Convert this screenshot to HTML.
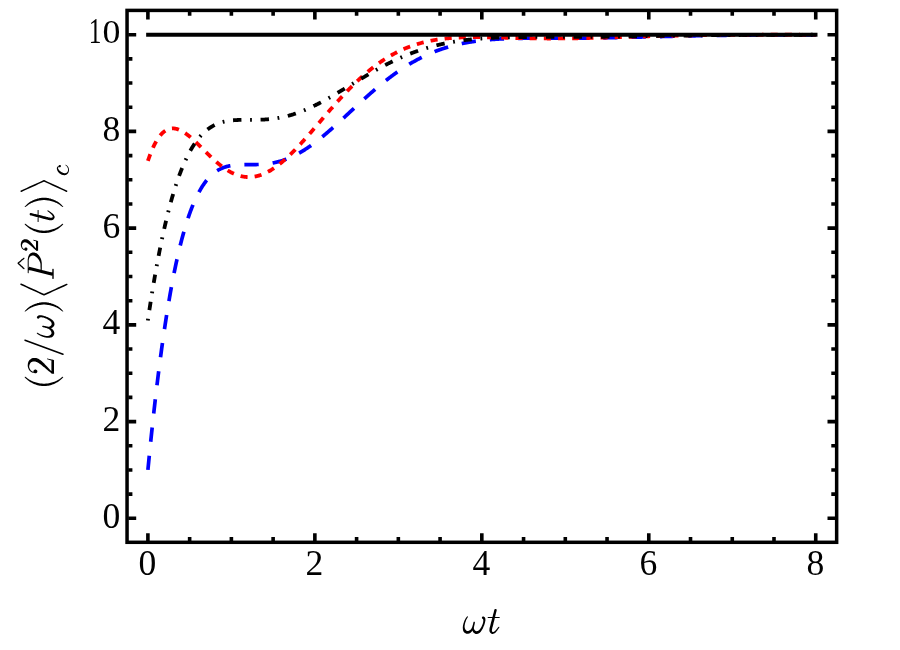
<!DOCTYPE html>
<html><head><meta charset="utf-8"><title>(2/ω)⟨P²(t)⟩c versus ωt</title><style>html,body{margin:0;padding:0;background:#fff;}body{width:900px;height:650px;overflow:hidden;position:relative;font-family:"Liberation Serif",serif;}</style></head><body>
<svg width="900" height="650" viewBox="0 0 900 650" style="position:absolute;left:0;top:0">
<rect x="0" y="0" width="900" height="650" fill="#fff"/>
<g fill="none" stroke-linecap="butt" stroke-linejoin="round">
<path d="M147.90 469.94 L148.32 465.61 L148.74 461.32 L149.15 457.07 L149.57 452.87 L149.99 448.70 L150.41 444.59 L150.82 440.51 L151.24 436.47 L151.66 432.48 L152.08 428.53 L152.49 424.62 L152.91 420.75 L153.33 416.92 L153.75 413.14 L154.16 409.39 L154.58 405.68 L155.00 402.02 L155.42 398.39 L155.84 394.80 L156.25 391.26 L156.67 387.75 L157.09 384.28 L157.51 380.85 L157.92 377.45 L158.34 374.10 L158.76 370.78 L159.18 367.50 L159.59 364.26 L160.01 361.05 L160.43 357.88 L160.85 354.75 L161.27 351.66 L161.68 348.60 L162.10 345.58 L162.52 342.59 L162.94 339.64 L163.35 336.72 L163.77 333.84 L164.19 330.99 L164.61 328.18 L165.02 325.40 L165.44 322.66 L165.86 319.95 L166.28 317.27 L166.69 314.63 L167.11 312.01 L167.53 309.44 L167.95 306.89 L168.37 304.38 L168.78 301.90 L169.20 299.45 L169.62 297.03 L170.04 294.65 L170.45 292.29 L170.87 289.97 L171.29 287.67 L171.71 285.41 L172.12 283.18 L172.54 280.98 L172.96 278.80 L173.38 276.66 L173.79 274.54 L174.21 272.46 L174.63 270.40 L175.05 268.37 L175.47 266.37 L175.88 264.40 L176.30 262.46 L176.72 260.54 L177.14 258.65 L177.55 256.79 L177.97 254.95 L178.39 253.14 L178.81 251.36 L179.22 249.60 L179.64 247.87 L180.06 246.17 L180.48 244.49 L180.90 242.83 L181.31 241.20 L181.73 239.60 L182.15 238.02 L182.57 236.46 L182.98 234.93 L183.40 233.42 L183.82 231.94 L184.24 230.48 L184.65 229.04 L185.07 227.62 L185.49 226.23 L185.91 224.86 L186.32 223.51 L186.74 222.19 L187.16 220.88 L187.58 219.60 L188.00 218.34 L188.41 217.10 L188.83 215.88 L189.25 214.68 L189.67 213.50 L190.08 212.34 L190.50 211.20 L190.92 210.08 L191.34 208.98 L191.75 207.90 L192.17 206.84 L192.59 205.80 L193.01 204.78 L193.43 203.77 L193.84 202.79 L194.26 201.82 L194.68 200.87 L195.10 199.94 L195.51 199.02 L195.93 198.13 L196.35 197.24 L196.77 196.38 L197.18 195.53 L197.60 194.70 L198.02 193.89 L198.44 193.09 L198.85 192.31 L199.27 191.54 L199.69 190.79 L200.11 190.05 L200.53 189.33 L200.94 188.62 L201.36 187.93 L201.78 187.25 L202.20 186.59 L202.61 185.94 L203.03 185.31 L203.45 184.69 L203.87 184.08 L204.28 183.48 L204.70 182.90 L205.12 182.33 L205.54 181.78 L205.95 181.24 L206.37 180.71 L206.79 180.19 L207.21 179.68 L207.63 179.19 L208.04 178.71 L208.46 178.23 L208.88 177.77 L209.30 177.33 L209.71 176.89 L210.13 176.46 L210.55 176.05 L210.97 175.64 L211.38 175.25 L211.80 174.86 L212.22 174.49 L212.64 174.12 L213.06 173.77 L213.47 173.42 L213.89 173.09 L214.31 172.76 L214.73 172.44 L215.14 172.13 L215.56 171.83 L215.98 171.54 L216.40 171.26 L216.81 170.98 L217.23 170.72 L217.65 170.46 L218.07 170.21 L218.48 169.96 L218.90 169.73 L219.32 169.50 L219.74 169.28 L220.16 169.07 L220.57 168.86 L220.99 168.66 L221.41 168.47 L221.83 168.28 L222.24 168.10 L222.66 167.93 L223.08 167.76 L223.50 167.60 L223.91 167.44 L224.33 167.29 L224.75 167.15 L225.17 167.01 L225.58 166.88 L226.00 166.75 L226.42 166.62 L226.84 166.51 L227.26 166.39 L227.67 166.28 L228.09 166.18 L228.51 166.08 L228.93 165.99 L229.34 165.90 L229.76 165.81 L230.18 165.73 L230.60 165.65 L231.01 165.58 L231.43 165.50 L231.85 165.44 L232.27 165.37 L232.69 165.31 L233.10 165.26 L233.52 165.20 L233.94 165.15 L234.36 165.10 L234.77 165.06 L235.19 165.02 L235.61 164.98 L236.03 164.94 L236.44 164.91 L236.86 164.88 L237.28 164.85 L237.70 164.82 L238.11 164.79 L238.53 164.77 L238.95 164.75 L239.37 164.73 L239.79 164.71 L240.20 164.69 L240.62 164.68 L241.04 164.67 L241.46 164.66 L241.87 164.64 L242.29 164.64 L242.71 164.63 L243.13 164.62 L243.54 164.61 L243.96 164.61 L244.38 164.61 L244.80 164.60 L245.22 164.60 L245.63 164.60 L246.05 164.59 L246.47 164.59 L246.89 164.59 L247.30 164.59 L247.72 164.59 L248.14 164.59 L248.56 164.59 L248.97 164.59 L249.39 164.59 L249.81 164.59 L250.23 164.59 L250.64 164.59 L251.06 164.59 L251.48 164.59 L251.90 164.59 L252.32 164.59 L252.73 164.58 L253.15 164.58 L253.57 164.58 L253.99 164.57 L254.40 164.57 L254.82 164.56 L255.24 164.55 L255.66 164.55 L256.07 164.54 L256.49 164.53 L256.91 164.52 L257.33 164.51 L257.74 164.49 L258.16 164.48 L258.58 164.47 L259.00 164.45 L259.42 164.43 L259.83 164.41 L260.25 164.39 L260.67 164.37 L261.09 164.35 L261.50 164.32 L261.92 164.30 L262.34 164.27 L262.76 164.24 L263.17 164.21 L263.59 164.17 L264.01 164.14 L264.43 164.10 L264.85 164.07 L265.26 164.03 L265.68 163.98 L266.10 163.94 L266.52 163.89 L266.93 163.85 L267.35 163.80 L267.77 163.75 L268.19 163.69 L268.60 163.64 L269.02 163.58 L269.44 163.52 L269.86 163.46 L270.27 163.39 L270.69 163.33 L271.11 163.26 L271.53 163.19 L271.95 163.11 L272.36 163.04 L272.78 162.96 L273.20 162.88 L273.62 162.80 L274.03 162.72 L274.45 162.63 L274.87 162.54 L275.29 162.45 L275.70 162.35 L276.12 162.26 L276.54 162.16 L276.96 162.06 L277.37 161.96 L277.79 161.85 L278.21 161.74 L278.63 161.63 L279.05 161.52 L279.46 161.40 L279.88 161.28 L280.30 161.16 L280.72 161.04 L281.13 160.91 L281.55 160.78 L281.97 160.65 L282.39 160.52 L282.80 160.38 L283.22 160.24 L283.64 160.10 L284.06 159.96 L284.48 159.81 L284.89 159.66 L285.31 159.51 L285.73 159.36 L286.15 159.20 L286.56 159.04 L286.98 158.88 L287.40 158.72 L287.82 158.55 L288.23 158.38 L288.65 158.21 L289.07 158.03 L289.49 157.86 L289.90 157.68 L290.32 157.50 L290.74 157.31 L291.16 157.12 L291.58 156.93 L291.99 156.74 L292.41 156.55 L292.83 156.35 L293.25 156.15 L293.66 155.95 L294.08 155.74 L294.50 155.53 L294.92 155.32 L295.33 155.11 L295.75 154.90 L296.17 154.68 L296.59 154.46 L297.00 154.24 L297.42 154.01 L297.84 153.79 L298.26 153.56 L298.68 153.32 L299.09 153.09 L299.51 152.85 L299.93 152.61 L300.35 152.37 L300.76 152.13 L301.18 151.88 L301.60 151.64 L302.02 151.39 L302.43 151.13 L302.85 150.88 L303.27 150.62 L303.69 150.36 L304.11 150.10 L304.52 149.83 L304.94 149.57 L305.36 149.30 L305.78 149.03 L306.19 148.76 L306.61 148.48 L307.03 148.20 L307.45 147.92 L307.86 147.64 L308.28 147.36 L308.70 147.07 L309.12 146.79 L309.53 146.50 L309.95 146.21 L310.37 145.91 L310.79 145.62 L311.21 145.32 L311.62 145.02 L312.04 144.72 L312.46 144.42 L312.88 144.11 L313.29 143.81 L313.71 143.50 L314.13 143.19 L314.55 142.87 L314.96 142.56 L315.38 142.24 L315.80 141.93 L316.22 141.61 L316.64 141.29 L317.05 140.96 L317.47 140.64 L317.89 140.31 L318.31 139.99 L318.72 139.66 L319.14 139.33 L319.56 138.99 L319.98 138.66 L320.39 138.33 L320.81 137.99 L321.23 137.65 L321.65 137.31 L322.06 136.97 L322.48 136.63 L322.90 136.28 L323.32 135.94 L323.74 135.59 L324.15 135.24 L324.57 134.89 L324.99 134.54 L325.41 134.19 L325.82 133.84 L326.24 133.48 L326.66 133.13 L327.08 132.77 L327.49 132.41 L327.91 132.06 L328.33 131.70 L328.75 131.33 L329.16 130.97 L329.58 130.61 L330.00 130.24 L330.42 129.88 L330.84 129.51 L331.25 129.15 L331.67 128.78 L332.09 128.41 L332.51 128.04 L332.92 127.67 L333.34 127.30 L333.76 126.92 L334.18 126.55 L334.59 126.18 L335.01 125.80 L335.43 125.43 L335.85 125.05 L336.27 124.67 L336.68 124.30 L337.10 123.92 L337.52 123.54 L337.94 123.16 L338.35 122.78 L338.77 122.40 L339.19 122.02 L339.61 121.64 L340.02 121.25 L340.44 120.87 L340.86 120.49 L341.28 120.10 L341.69 119.72 L342.11 119.34 L342.53 118.95 L342.95 118.57 L343.37 118.18 L343.78 117.80 L344.20 117.41 L344.62 117.02 L345.04 116.64 L345.45 116.25 L345.87 115.86 L346.29 115.48 L346.71 115.09 L347.12 114.70 L347.54 114.31 L347.96 113.93 L348.38 113.54 L348.79 113.15 L349.21 112.76 L349.63 112.37 L350.05 111.99 L350.47 111.60 L350.88 111.21 L351.30 110.82 L351.72 110.44 L352.14 110.05 L352.55 109.66 L352.97 109.27 L353.39 108.89 L353.81 108.50 L354.22 108.11 L354.64 107.73 L355.06 107.34 L355.48 106.95 L355.90 106.57 L356.31 106.18 L356.73 105.80 L357.15 105.41 L357.57 105.03 L357.98 104.64 L358.40 104.26 L358.82 103.87 L359.24 103.49 L359.65 103.11 L360.07 102.72 L360.49 102.34 L360.91 101.96 L361.32 101.58 L361.74 101.20 L362.16 100.82 L362.58 100.44 L363.00 100.06 L363.41 99.68 L363.83 99.30 L364.25 98.93 L364.67 98.55 L365.08 98.17 L365.50 97.80 L365.92 97.42 L366.34 97.05 L366.75 96.68 L367.17 96.30 L367.59 95.93 L368.01 95.56 L368.43 95.19 L368.84 94.82 L369.26 94.45 L369.68 94.08 L370.10 93.72 L370.51 93.35 L370.93 92.98 L371.35 92.62 L371.77 92.25 L372.18 91.89 L372.60 91.53 L373.02 91.17 L373.44 90.81 L373.85 90.45 L374.27 90.09 L374.69 89.73 L375.11 89.37 L375.53 89.02 L375.94 88.66 L376.36 88.31 L376.78 87.95 L377.20 87.60 L377.61 87.25 L378.03 86.90 L378.45 86.55 L378.87 86.20 L379.28 85.86 L379.70 85.51 L380.12 85.17 L380.54 84.82 L380.95 84.48 L381.37 84.14 L381.79 83.80 L382.21 83.46 L382.63 83.12 L383.04 82.79 L383.46 82.45 L383.88 82.11 L384.30 81.78 L384.71 81.45 L385.13 81.12 L385.55 80.79 L385.97 80.46 L386.38 80.13 L386.80 79.81 L387.22 79.48 L387.64 79.16 L388.06 78.84 L388.47 78.51 L388.89 78.19 L389.31 77.88 L389.73 77.56 L390.14 77.24 L390.56 76.93 L390.98 76.61 L391.40 76.30 L391.81 75.99 L392.23 75.68 L392.65 75.37 L393.07 75.07 L393.48 74.76 L393.90 74.46 L394.32 74.15 L394.74 73.85 L395.16 73.55 L395.57 73.25 L395.99 72.96 L396.41 72.66 L396.83 72.36 L397.24 72.07 L397.66 71.78 L398.08 71.49 L398.50 71.20 L398.91 70.91 L399.33 70.63 L399.75 70.34 L400.17 70.06 L400.58 69.77 L401.00 69.49 L401.42 69.21 L401.84 68.94 L402.26 68.66 L402.67 68.39 L403.09 68.11 L403.51 67.84 L403.93 67.57 L404.34 67.30 L404.76 67.03 L405.18 66.77 L405.60 66.50 L406.01 66.24 L406.43 65.98 L406.85 65.71 L407.27 65.46 L407.69 65.20 L408.10 64.94 L408.52 64.69 L408.94 64.43 L409.36 64.18 L409.77 63.93 L410.19 63.68 L410.61 63.43 L411.03 63.19 L411.44 62.94 L411.86 62.70 L412.28 62.46 L412.70 62.22 L413.11 61.98 L413.53 61.74 L413.95 61.51 L414.37 61.27 L414.79 61.04 L415.20 60.81 L415.62 60.58 L416.04 60.35 L416.46 60.12 L416.87 59.90 L417.29 59.67 L417.71 59.45 L418.13 59.23 L418.54 59.01 L418.96 58.79 L419.38 58.58 L419.80 58.36 L420.21 58.15 L420.63 57.94 L421.05 57.72 L421.47 57.52 L421.89 57.31 L422.30 57.10 L422.72 56.90 L423.14 56.69 L423.56 56.49 L423.97 56.29 L424.39 56.09 L424.81 55.89 L425.23 55.70 L425.64 55.50 L426.06 55.31 L426.48 55.11 L426.90 54.92 L427.32 54.73 L427.73 54.55 L428.15 54.36 L428.57 54.17 L428.99 53.99 L429.40 53.81 L429.82 53.63 L430.24 53.45 L430.66 53.27 L431.07 53.09 L431.49 52.92 L431.91 52.74 L432.33 52.57 L432.74 52.40 L433.16 52.23 L433.58 52.06 L434.00 51.89 L434.42 51.73 L434.83 51.56 L435.25 51.40 L435.67 51.24 L436.09 51.08 L436.50 50.92 L436.92 50.76 L437.34 50.61 L437.76 50.45 L438.17 50.30 L438.59 50.15 L439.01 49.99 L439.43 49.84 L439.85 49.70 L440.26 49.55 L440.68 49.40 L441.10 49.26 L441.52 49.12 L441.93 48.97 L442.35 48.83 L442.77 48.69 L443.19 48.55 L443.60 48.42 L444.02 48.28 L444.44 48.15 L444.86 48.01 L445.27 47.88 L445.69 47.75 L446.11 47.62 L446.53 47.49 L446.95 47.37 L447.36 47.24 L447.78 47.12 L448.20 46.99 L448.62 46.87 L449.03 46.75 L449.45 46.63 L449.87 46.51 L450.29 46.39 L450.70 46.28 L451.12 46.16 L451.54 46.05 L451.96 45.93 L452.37 45.82 L452.79 45.71 L453.21 45.60 L453.63 45.49 L454.05 45.39 L454.46 45.28 L454.88 45.17 L455.30 45.07 L455.72 44.97 L456.13 44.87 L456.55 44.77 L456.97 44.67 L457.39 44.57 L457.80 44.47 L458.22 44.37 L458.64 44.28 L459.06 44.18 L459.48 44.09 L459.89 44.00 L460.31 43.91 L460.73 43.82 L461.15 43.73 L461.56 43.64 L461.98 43.55 L462.40 43.47 L462.82 43.38 L463.23 43.30 L463.65 43.21 L464.07 43.13 L464.49 43.05 L464.90 42.97 L465.32 42.89 L465.74 42.81 L466.16 42.73 L466.58 42.66 L466.99 42.58 L467.41 42.51 L467.83 42.43 L468.25 42.36 L468.66 42.29 L469.08 42.22 L469.50 42.15 L469.92 42.08 L470.33 42.01 L470.75 41.94 L471.17 41.87 L471.59 41.81 L472.00 41.74 L472.42 41.68 L472.84 41.61 L473.26 41.55 L473.68 41.49 L474.09 41.43 L474.51 41.37 L474.93 41.31 L475.35 41.25 L475.76 41.19 L476.18 41.14 L476.60 41.08 L477.02 41.02 L477.43 40.97 L477.85 40.91 L478.27 40.86 L478.69 40.81 L479.11 40.76 L479.52 40.71 L479.94 40.66 L480.36 40.61 L480.78 40.56 L481.19 40.51 L481.61 40.46 L482.03 40.42 L482.45 40.37 L482.86 40.32 L483.28 40.28 L483.70 40.24 L484.12 40.19 L484.53 40.15 L484.95 40.11 L485.37 40.07 L485.79 40.02 L486.21 39.98 L486.62 39.95 L487.04 39.91 L487.46 39.87 L487.88 39.83 L488.29 39.79 L488.71 39.76 L489.13 39.72 L489.55 39.69 L489.96 39.65 L490.38 39.62 L490.80 39.58 L491.22 39.55 L491.64 39.52 L492.05 39.49 L492.47 39.45 L492.89 39.42 L493.31 39.39 L493.72 39.36 L494.14 39.33 L494.56 39.31 L494.98 39.28 L495.39 39.25 L495.81 39.22 L496.23 39.20 L496.65 39.17 L497.06 39.14 L497.48 39.12 L497.90 39.09 L498.32 39.07 L498.74 39.05 L499.15 39.02 L499.57 39.00 L499.99 38.98 L500.41 38.95 L500.82 38.93 L501.24 38.91 L501.66 38.89 L502.08 38.87 L502.49 38.85 L502.91 38.83 L503.33 38.81 L503.75 38.79 L504.16 38.77 L504.58 38.76 L505.00 38.74 L505.42 38.72 L505.84 38.70 L506.25 38.69 L506.67 38.67 L507.09 38.66 L507.51 38.64 L507.92 38.63 L508.34 38.61 L508.76 38.60 L509.18 38.58 L509.59 38.57 L510.01 38.55 L510.43 38.54 L510.85 38.53 L511.27 38.52 L511.68 38.50 L512.10 38.49 L512.52 38.48 L512.94 38.47 L513.35 38.46 L513.77 38.45 L514.19 38.44 L514.61 38.43 L515.02 38.42 L515.44 38.41 L515.86 38.40 L516.28 38.39 L516.69 38.38 L517.11 38.37 L517.53 38.36 L517.95 38.35 L518.37 38.35 L518.78 38.34 L519.20 38.33 L519.62 38.32 L520.04 38.32 L520.45 38.31 L520.87 38.30 L521.29 38.30 L521.71 38.29 L522.12 38.28 L522.54 38.28 L522.96 38.27 L523.38 38.27 L523.79 38.26 L524.21 38.26 L524.63 38.25 L525.05 38.25 L525.47 38.24 L525.88 38.24 L526.30 38.23 L526.72 38.23 L527.14 38.22 L527.55 38.22 L527.97 38.22 L528.39 38.21 L528.81 38.21 L529.22 38.21 L529.64 38.20 L530.06 38.20 L530.48 38.20 L530.90 38.19 L531.31 38.19 L531.73 38.19 L532.15 38.19 L532.57 38.19 L532.98 38.18 L533.40 38.18 L533.82 38.18 L534.24 38.18 L534.65 38.18 L535.07 38.17 L535.49 38.17 L535.91 38.17 L536.32 38.17 L536.74 38.17 L537.16 38.17 L537.58 38.17 L538.00 38.16 L538.41 38.16 L538.83 38.16 L539.25 38.16 L539.67 38.16 L540.08 38.16 L540.50 38.16 L540.92 38.16 L541.34 38.16 L541.75 38.16 L542.17 38.16 L542.59 38.16 L543.01 38.16 L543.43 38.15 L543.84 38.15 L544.26 38.15 L544.68 38.15 L545.10 38.15 L545.51 38.15 L545.93 38.15 L546.35 38.15 L546.77 38.15 L547.18 38.15 L547.60 38.15 L548.02 38.15 L548.44 38.15 L548.85 38.15 L549.27 38.15 L549.69 38.15 L550.11 38.15 L550.53 38.15 L550.94 38.15 L551.36 38.15 L551.78 38.15 L552.20 38.15 L552.61 38.15 L553.03 38.15 L553.45 38.15 L553.87 38.15 L554.28 38.15 L554.70 38.15 L555.12 38.15 L555.54 38.15 L555.95 38.15 L556.37 38.15 L556.79 38.15 L557.21 38.15 L557.63 38.15 L558.04 38.15 L558.46 38.15 L558.88 38.15 L559.30 38.15 L559.71 38.15 L560.13 38.15 L560.55 38.15 L560.97 38.15 L561.38 38.15 L561.80 38.15 L562.22 38.15 L562.64 38.15 L563.06 38.15 L563.47 38.15 L563.89 38.15 L564.31 38.15 L564.73 38.14 L565.14 38.14 L565.56 38.14 L565.98 38.14 L566.40 38.14 L566.81 38.14 L567.23 38.14 L567.65 38.14 L568.07 38.14 L568.48 38.14 L568.90 38.14 L569.32 38.13 L569.74 38.13 L570.16 38.13 L570.57 38.13 L570.99 38.13 L571.41 38.13 L571.83 38.13 L572.24 38.12 L572.66 38.12 L573.08 38.12 L573.50 38.12 L573.91 38.12 L574.33 38.12 L574.75 38.11 L575.17 38.11 L575.58 38.11 L576.00 38.11 L576.42 38.11 L576.84 38.10 L577.26 38.10 L577.67 38.10 L578.09 38.10 L578.51 38.09 L578.93 38.09 L579.34 38.09 L579.76 38.09 L580.18 38.08 L580.60 38.08 L581.01 38.08 L581.43 38.07 L581.85 38.07 L582.27 38.07 L582.69 38.06 L583.10 38.06 L583.52 38.06 L583.94 38.05 L584.36 38.05 L584.77 38.05 L585.19 38.04 L585.61 38.04 L586.03 38.04 L586.44 38.03 L586.86 38.03 L587.28 38.03 L587.70 38.02 L588.11 38.02 L588.53 38.01 L588.95 38.01 L589.37 38.01 L589.79 38.00 L590.20 38.00 L590.62 37.99 L591.04 37.99 L591.46 37.98 L591.87 37.98 L592.29 37.97 L592.71 37.97 L593.13 37.96 L593.54 37.96 L593.96 37.95 L594.38 37.95 L594.80 37.94 L595.21 37.94 L595.63 37.93 L596.05 37.93 L596.47 37.92 L596.89 37.92 L597.30 37.91 L597.72 37.91 L598.14 37.90 L598.56 37.90 L598.97 37.89 L599.39 37.88 L599.81 37.88 L600.23 37.87 L600.64 37.87 L601.06 37.86 L601.48 37.85 L601.90 37.85 L602.32 37.84 L602.73 37.83 L603.15 37.83 L603.57 37.82 L603.99 37.82 L604.40 37.81 L604.82 37.80 L605.24 37.80 L605.66 37.79 L606.07 37.78 L606.49 37.77 L606.91 37.77 L607.33 37.76 L607.74 37.75 L608.16 37.75 L608.58 37.74 L609.00 37.73 L609.42 37.72 L609.83 37.72 L610.25 37.71 L610.67 37.70 L611.09 37.69 L611.50 37.69 L611.92 37.68 L612.34 37.67 L612.76 37.66 L613.17 37.66 L613.59 37.65 L614.01 37.64 L614.43 37.63 L614.85 37.62 L615.26 37.62 L615.68 37.61 L616.10 37.60 L616.52 37.59 L616.93 37.58 L617.35 37.58 L617.77 37.57 L618.19 37.56 L618.60 37.55 L619.02 37.54 L619.44 37.53 L619.86 37.53 L620.27 37.52 L620.69 37.51 L621.11 37.50 L621.53 37.49 L621.95 37.48 L622.36 37.47 L622.78 37.46 L623.20 37.45 L623.62 37.45 L624.03 37.44 L624.45 37.43 L624.87 37.42 L625.29 37.41 L625.70 37.40 L626.12 37.39 L626.54 37.38 L626.96 37.37 L627.37 37.36 L627.79 37.35 L628.21 37.35 L628.63 37.34 L629.05 37.33 L629.46 37.32 L629.88 37.31 L630.30 37.30 L630.72 37.29 L631.13 37.28 L631.55 37.27 L631.97 37.26 L632.39 37.25 L632.80 37.24 L633.22 37.23 L633.64 37.22 L634.06 37.21 L634.48 37.20 L634.89 37.19 L635.31 37.18 L635.73 37.17 L636.15 37.16 L636.56 37.15 L636.98 37.14 L637.40 37.13 L637.82 37.12 L638.23 37.11 L638.65 37.10 L639.07 37.09 L639.49 37.08 L639.90 37.07 L640.32 37.06 L640.74 37.05 L641.16 37.04 L641.58 37.03 L641.99 37.02 L642.41 37.01 L642.83 37.00 L643.25 36.99 L643.66 36.98 L644.08 36.97 L644.50 36.96 L644.92 36.95 L645.33 36.94 L645.75 36.93 L646.17 36.92 L646.59 36.91 L647.00 36.90 L647.42 36.89 L647.84 36.88 L648.26 36.87 L648.68 36.86 L649.09 36.85 L649.51 36.84 L649.93 36.83 L650.35 36.82 L650.76 36.81 L651.18 36.80 L651.60 36.79 L652.02 36.78 L652.43 36.77 L652.85 36.75 L653.27 36.74 L653.69 36.73 L654.11 36.72 L654.52 36.71 L654.94 36.70 L655.36 36.69 L655.78 36.68 L656.19 36.67 L656.61 36.66 L657.03 36.65 L657.45 36.64 L657.86 36.63 L658.28 36.62 L658.70 36.61 L659.12 36.60 L659.53 36.59 L659.95 36.58 L660.37 36.57 L660.79 36.56 L661.21 36.55 L661.62 36.54 L662.04 36.53 L662.46 36.52 L662.88 36.51 L663.29 36.50 L663.71 36.49 L664.13 36.48 L664.55 36.47 L664.96 36.46 L665.38 36.45 L665.80 36.44 L666.22 36.43 L666.64 36.42 L667.05 36.41 L667.47 36.40 L667.89 36.39 L668.31 36.38 L668.72 36.37 L669.14 36.36 L669.56 36.35 L669.98 36.34 L670.39 36.33 L670.81 36.32 L671.23 36.31 L671.65 36.30 L672.06 36.29 L672.48 36.28 L672.90 36.27 L673.32 36.26 L673.74 36.25 L674.15 36.24 L674.57 36.23 L674.99 36.22 L675.41 36.21 L675.82 36.20 L676.24 36.19 L676.66 36.18 L677.08 36.17 L677.49 36.16 L677.91 36.15 L678.33 36.14 L678.75 36.13 L679.16 36.13 L679.58 36.12 L680.00 36.11 L680.42 36.10 L680.84 36.09 L681.25 36.08 L681.67 36.07 L682.09 36.06 L682.51 36.05 L682.92 36.04 L683.34 36.03 L683.76 36.02 L684.18 36.01 L684.59 36.01 L685.01 36.00 L685.43 35.99 L685.85 35.98 L686.27 35.97 L686.68 35.96 L687.10 35.95 L687.52 35.94 L687.94 35.93 L688.35 35.93 L688.77 35.92 L689.19 35.91 L689.61 35.90 L690.02 35.89 L690.44 35.88 L690.86 35.87 L691.28 35.87 L691.69 35.86 L692.11 35.85 L692.53 35.84 L692.95 35.83 L693.37 35.82 L693.78 35.81 L694.20 35.81 L694.62 35.80 L695.04 35.79 L695.45 35.78 L695.87 35.77 L696.29 35.77 L696.71 35.76 L697.12 35.75 L697.54 35.74 L697.96 35.73 L698.38 35.73 L698.79 35.72 L699.21 35.71 L699.63 35.70 L700.05 35.69 L700.47 35.69 L700.88 35.68 L701.30 35.67 L701.72 35.66 L702.14 35.66 L702.55 35.65 L702.97 35.64 L703.39 35.63 L703.81 35.63 L704.22 35.62 L704.64 35.61 L705.06 35.60 L705.48 35.60 L705.90 35.59 L706.31 35.58 L706.73 35.57 L707.15 35.57 L707.57 35.56 L707.98 35.55 L708.40 35.55 L708.82 35.54 L709.24 35.53 L709.65 35.52 L710.07 35.52 L710.49 35.51 L710.91 35.50 L711.32 35.50 L711.74 35.49 L712.16 35.48 L712.58 35.48 L713.00 35.47 L713.41 35.46 L713.83 35.46 L714.25 35.45 L714.67 35.44 L715.08 35.44 L715.50 35.43 L715.92 35.43 L716.34 35.42 L716.75 35.41 L717.17 35.41 L717.59 35.40 L718.01 35.39 L718.42 35.39 L718.84 35.38 L719.26 35.38 L719.68 35.37 L720.10 35.36 L720.51 35.36 L720.93 35.35 L721.35 35.35 L721.77 35.34 L722.18 35.34 L722.60 35.33 L723.02 35.32 L723.44 35.32 L723.85 35.31 L724.27 35.31 L724.69 35.30 L725.11 35.30 L725.53 35.29 L725.94 35.28 L726.36 35.28 L726.78 35.27 L727.20 35.27 L727.61 35.26 L728.03 35.26 L728.45 35.25 L728.87 35.25 L729.28 35.24 L729.70 35.24 L730.12 35.23 L730.54 35.23 L730.95 35.22 L731.37 35.22 L731.79 35.21 L732.21 35.21 L732.63 35.20 L733.04 35.20 L733.46 35.19 L733.88 35.19 L734.30 35.18 L734.71 35.18 L735.13 35.18 L735.55 35.17 L735.97 35.17 L736.38 35.16 L736.80 35.16 L737.22 35.15 L737.64 35.15 L738.06 35.14 L738.47 35.14 L738.89 35.14 L739.31 35.13 L739.73 35.13 L740.14 35.12 L740.56 35.12 L740.98 35.11 L741.40 35.11 L741.81 35.11 L742.23 35.10 L742.65 35.10 L743.07 35.09 L743.48 35.09 L743.90 35.09 L744.32 35.08 L744.74 35.08 L745.16 35.08 L745.57 35.07 L745.99 35.07 L746.41 35.06 L746.83 35.06 L747.24 35.06 L747.66 35.05 L748.08 35.05 L748.50 35.05 L748.91 35.04 L749.33 35.04 L749.75 35.04 L750.17 35.03 L750.58 35.03 L751.00 35.03 L751.42 35.02 L751.84 35.02 L752.26 35.02 L752.67 35.01 L753.09 35.01 L753.51 35.01 L753.93 35.00 L754.34 35.00 L754.76 35.00 L755.18 35.00 L755.60 34.99 L756.01 34.99 L756.43 34.99 L756.85 34.98 L757.27 34.98 L757.69 34.98 L758.10 34.98 L758.52 34.97 L758.94 34.97 L759.36 34.97 L759.77 34.97 L760.19 34.96 L760.61 34.96 L761.03 34.96 L761.44 34.95 L761.86 34.95 L762.28 34.95 L762.70 34.95 L763.11 34.94 L763.53 34.94 L763.95 34.94 L764.37 34.94 L764.79 34.94 L765.20 34.93 L765.62 34.93 L766.04 34.93 L766.46 34.93 L766.87 34.92 L767.29 34.92 L767.71 34.92 L768.13 34.92 L768.54 34.92 L768.96 34.91 L769.38 34.91 L769.80 34.91 L770.21 34.91 L770.63 34.91 L771.05 34.90 L771.47 34.90 L771.89 34.90 L772.30 34.90 L772.72 34.90 L773.14 34.89 L773.56 34.89 L773.97 34.89 L774.39 34.89 L774.81 34.89 L775.23 34.89 L775.64 34.88 L776.06 34.88 L776.48 34.88 L776.90 34.88 L777.32 34.88 L777.73 34.88 L778.15 34.87 L778.57 34.87 L778.99 34.87 L779.40 34.87 L779.82 34.87 L780.24 34.87 L780.66 34.87 L781.07 34.86 L781.49 34.86 L781.91 34.86 L782.33 34.86 L782.74 34.86 L783.16 34.86 L783.58 34.86 L784.00 34.85 L784.42 34.85 L784.83 34.85 L785.25 34.85 L785.67 34.85 L786.09 34.85 L786.50 34.85 L786.92 34.85 L787.34 34.84 L787.76 34.84 L788.17 34.84 L788.59 34.84 L789.01 34.84 L789.43 34.84 L789.85 34.84 L790.26 34.84 L790.68 34.84 L791.10 34.84 L791.52 34.83 L791.93 34.83 L792.35 34.83 L792.77 34.83 L793.19 34.83 L793.60 34.83 L794.02 34.83 L794.44 34.83 L794.86 34.83 L795.27 34.83 L795.69 34.83 L796.11 34.82 L796.53 34.82 L796.95 34.82 L797.36 34.82 L797.78 34.82 L798.20 34.82 L798.62 34.82 L799.03 34.82 L799.45 34.82 L799.87 34.82 L800.29 34.82 L800.70 34.82 L801.12 34.82 L801.54 34.82 L801.96 34.81 L802.37 34.81 L802.79 34.81 L803.21 34.81 L803.63 34.81 L804.05 34.81 L804.46 34.81 L804.88 34.81 L805.30 34.81 L805.72 34.81 L806.13 34.81 L806.55 34.81 L806.97 34.81 L807.39 34.81 L807.80 34.81 L808.22 34.81 L808.64 34.81 L809.06 34.81 L809.48 34.81 L809.89 34.81 L810.31 34.80 L810.73 34.80 L811.15 34.80 L811.56 34.80 L811.98 34.80 L812.40 34.80 L812.82 34.80 L813.23 34.80 L813.65 34.80 L814.07 34.80 L814.49 34.80 L814.90 34.80 L815.32 34.80 L815.74 34.80" stroke="#0000ff" stroke-width="3.7" stroke-dasharray="14.3 14.06"/>
<path d="M147.90 160.97 L148.32 159.72 L148.74 158.50 L149.15 157.31 L149.57 156.15 L149.99 155.02 L150.41 153.92 L150.82 152.84 L151.24 151.80 L151.66 150.78 L152.08 149.79 L152.49 148.82 L152.91 147.89 L153.33 146.97 L153.75 146.09 L154.16 145.23 L154.58 144.40 L155.00 143.59 L155.42 142.80 L155.84 142.04 L156.25 141.31 L156.67 140.60 L157.09 139.91 L157.51 139.24 L157.92 138.60 L158.34 137.98 L158.76 137.39 L159.18 136.81 L159.59 136.26 L160.01 135.73 L160.43 135.22 L160.85 134.73 L161.27 134.26 L161.68 133.82 L162.10 133.39 L162.52 132.98 L162.94 132.59 L163.35 132.22 L163.77 131.87 L164.19 131.54 L164.61 131.23 L165.02 130.93 L165.44 130.65 L165.86 130.39 L166.28 130.15 L166.69 129.93 L167.11 129.72 L167.53 129.52 L167.95 129.35 L168.37 129.19 L168.78 129.04 L169.20 128.91 L169.62 128.80 L170.04 128.70 L170.45 128.62 L170.87 128.55 L171.29 128.49 L171.71 128.45 L172.12 128.42 L172.54 128.41 L172.96 128.41 L173.38 128.42 L173.79 128.44 L174.21 128.48 L174.63 128.53 L175.05 128.59 L175.47 128.66 L175.88 128.74 L176.30 128.84 L176.72 128.95 L177.14 129.06 L177.55 129.19 L177.97 129.33 L178.39 129.48 L178.81 129.64 L179.22 129.81 L179.64 129.98 L180.06 130.17 L180.48 130.37 L180.90 130.57 L181.31 130.78 L181.73 131.01 L182.15 131.24 L182.57 131.47 L182.98 131.72 L183.40 131.97 L183.82 132.23 L184.24 132.50 L184.65 132.78 L185.07 133.06 L185.49 133.35 L185.91 133.64 L186.32 133.95 L186.74 134.25 L187.16 134.57 L187.58 134.89 L188.00 135.21 L188.41 135.54 L188.83 135.88 L189.25 136.22 L189.67 136.56 L190.08 136.91 L190.50 137.27 L190.92 137.62 L191.34 137.99 L191.75 138.35 L192.17 138.72 L192.59 139.10 L193.01 139.47 L193.43 139.86 L193.84 140.24 L194.26 140.63 L194.68 141.02 L195.10 141.41 L195.51 141.80 L195.93 142.20 L196.35 142.60 L196.77 143.00 L197.18 143.41 L197.60 143.81 L198.02 144.22 L198.44 144.63 L198.85 145.04 L199.27 145.45 L199.69 145.86 L200.11 146.27 L200.53 146.69 L200.94 147.10 L201.36 147.52 L201.78 147.93 L202.20 148.35 L202.61 148.77 L203.03 149.18 L203.45 149.60 L203.87 150.02 L204.28 150.43 L204.70 150.85 L205.12 151.26 L205.54 151.68 L205.95 152.09 L206.37 152.51 L206.79 152.92 L207.21 153.33 L207.63 153.74 L208.04 154.15 L208.46 154.56 L208.88 154.96 L209.30 155.37 L209.71 155.77 L210.13 156.17 L210.55 156.57 L210.97 156.97 L211.38 157.36 L211.80 157.76 L212.22 158.15 L212.64 158.53 L213.06 158.92 L213.47 159.30 L213.89 159.69 L214.31 160.06 L214.73 160.44 L215.14 160.81 L215.56 161.18 L215.98 161.55 L216.40 161.92 L216.81 162.28 L217.23 162.64 L217.65 162.99 L218.07 163.34 L218.48 163.69 L218.90 164.04 L219.32 164.38 L219.74 164.72 L220.16 165.05 L220.57 165.38 L220.99 165.71 L221.41 166.03 L221.83 166.35 L222.24 166.67 L222.66 166.98 L223.08 167.28 L223.50 167.59 L223.91 167.89 L224.33 168.18 L224.75 168.47 L225.17 168.76 L225.58 169.04 L226.00 169.32 L226.42 169.59 L226.84 169.86 L227.26 170.13 L227.67 170.39 L228.09 170.64 L228.51 170.90 L228.93 171.14 L229.34 171.38 L229.76 171.62 L230.18 171.85 L230.60 172.08 L231.01 172.30 L231.43 172.52 L231.85 172.74 L232.27 172.94 L232.69 173.15 L233.10 173.35 L233.52 173.54 L233.94 173.73 L234.36 173.91 L234.77 174.09 L235.19 174.26 L235.61 174.43 L236.03 174.59 L236.44 174.75 L236.86 174.91 L237.28 175.05 L237.70 175.20 L238.11 175.33 L238.53 175.47 L238.95 175.59 L239.37 175.72 L239.79 175.83 L240.20 175.94 L240.62 176.05 L241.04 176.15 L241.46 176.25 L241.87 176.34 L242.29 176.42 L242.71 176.50 L243.13 176.58 L243.54 176.65 L243.96 176.71 L244.38 176.77 L244.80 176.82 L245.22 176.87 L245.63 176.92 L246.05 176.95 L246.47 176.99 L246.89 177.01 L247.30 177.03 L247.72 177.05 L248.14 177.06 L248.56 177.07 L248.97 177.07 L249.39 177.07 L249.81 177.06 L250.23 177.04 L250.64 177.02 L251.06 177.00 L251.48 176.97 L251.90 176.93 L252.32 176.89 L252.73 176.84 L253.15 176.79 L253.57 176.74 L253.99 176.68 L254.40 176.61 L254.82 176.54 L255.24 176.46 L255.66 176.38 L256.07 176.29 L256.49 176.20 L256.91 176.11 L257.33 176.00 L257.74 175.90 L258.16 175.79 L258.58 175.67 L259.00 175.55 L259.42 175.42 L259.83 175.29 L260.25 175.16 L260.67 175.01 L261.09 174.87 L261.50 174.72 L261.92 174.56 L262.34 174.40 L262.76 174.24 L263.17 174.07 L263.59 173.90 L264.01 173.72 L264.43 173.54 L264.85 173.35 L265.26 173.16 L265.68 172.96 L266.10 172.76 L266.52 172.55 L266.93 172.34 L267.35 172.13 L267.77 171.91 L268.19 171.69 L268.60 171.46 L269.02 171.23 L269.44 170.99 L269.86 170.75 L270.27 170.51 L270.69 170.26 L271.11 170.01 L271.53 169.75 L271.95 169.49 L272.36 169.22 L272.78 168.95 L273.20 168.68 L273.62 168.41 L274.03 168.12 L274.45 167.84 L274.87 167.55 L275.29 167.26 L275.70 166.96 L276.12 166.66 L276.54 166.36 L276.96 166.05 L277.37 165.74 L277.79 165.43 L278.21 165.11 L278.63 164.79 L279.05 164.47 L279.46 164.14 L279.88 163.81 L280.30 163.47 L280.72 163.13 L281.13 162.79 L281.55 162.45 L281.97 162.10 L282.39 161.75 L282.80 161.39 L283.22 161.03 L283.64 160.67 L284.06 160.31 L284.48 159.94 L284.89 159.57 L285.31 159.20 L285.73 158.83 L286.15 158.45 L286.56 158.07 L286.98 157.68 L287.40 157.30 L287.82 156.91 L288.23 156.51 L288.65 156.12 L289.07 155.72 L289.49 155.32 L289.90 154.92 L290.32 154.51 L290.74 154.11 L291.16 153.70 L291.58 153.28 L291.99 152.87 L292.41 152.45 L292.83 152.03 L293.25 151.61 L293.66 151.19 L294.08 150.76 L294.50 150.34 L294.92 149.91 L295.33 149.47 L295.75 149.04 L296.17 148.61 L296.59 148.17 L297.00 147.73 L297.42 147.29 L297.84 146.84 L298.26 146.40 L298.68 145.95 L299.09 145.50 L299.51 145.05 L299.93 144.60 L300.35 144.15 L300.76 143.69 L301.18 143.24 L301.60 142.78 L302.02 142.32 L302.43 141.86 L302.85 141.40 L303.27 140.93 L303.69 140.47 L304.11 140.00 L304.52 139.54 L304.94 139.07 L305.36 138.60 L305.78 138.13 L306.19 137.65 L306.61 137.18 L307.03 136.71 L307.45 136.23 L307.86 135.76 L308.28 135.28 L308.70 134.80 L309.12 134.33 L309.53 133.85 L309.95 133.37 L310.37 132.89 L310.79 132.40 L311.21 131.92 L311.62 131.44 L312.04 130.96 L312.46 130.47 L312.88 129.99 L313.29 129.50 L313.71 129.02 L314.13 128.53 L314.55 128.05 L314.96 127.56 L315.38 127.07 L315.80 126.58 L316.22 126.10 L316.64 125.61 L317.05 125.12 L317.47 124.63 L317.89 124.15 L318.31 123.66 L318.72 123.17 L319.14 122.68 L319.56 122.19 L319.98 121.70 L320.39 121.21 L320.81 120.72 L321.23 120.24 L321.65 119.75 L322.06 119.26 L322.48 118.77 L322.90 118.28 L323.32 117.80 L323.74 117.31 L324.15 116.82 L324.57 116.33 L324.99 115.85 L325.41 115.36 L325.82 114.88 L326.24 114.39 L326.66 113.91 L327.08 113.42 L327.49 112.94 L327.91 112.45 L328.33 111.97 L328.75 111.49 L329.16 111.01 L329.58 110.53 L330.00 110.05 L330.42 109.57 L330.84 109.09 L331.25 108.61 L331.67 108.13 L332.09 107.65 L332.51 107.18 L332.92 106.70 L333.34 106.23 L333.76 105.75 L334.18 105.28 L334.59 104.81 L335.01 104.34 L335.43 103.87 L335.85 103.40 L336.27 102.93 L336.68 102.47 L337.10 102.00 L337.52 101.54 L337.94 101.07 L338.35 100.61 L338.77 100.15 L339.19 99.69 L339.61 99.23 L340.02 98.77 L340.44 98.31 L340.86 97.86 L341.28 97.40 L341.69 96.95 L342.11 96.50 L342.53 96.05 L342.95 95.60 L343.37 95.15 L343.78 94.70 L344.20 94.26 L344.62 93.81 L345.04 93.37 L345.45 92.93 L345.87 92.49 L346.29 92.05 L346.71 91.61 L347.12 91.18 L347.54 90.74 L347.96 90.31 L348.38 89.88 L348.79 89.45 L349.21 89.02 L349.63 88.59 L350.05 88.17 L350.47 87.75 L350.88 87.32 L351.30 86.90 L351.72 86.49 L352.14 86.07 L352.55 85.65 L352.97 85.24 L353.39 84.83 L353.81 84.42 L354.22 84.01 L354.64 83.60 L355.06 83.20 L355.48 82.79 L355.90 82.39 L356.31 81.99 L356.73 81.59 L357.15 81.20 L357.57 80.80 L357.98 80.41 L358.40 80.02 L358.82 79.63 L359.24 79.24 L359.65 78.85 L360.07 78.47 L360.49 78.09 L360.91 77.71 L361.32 77.33 L361.74 76.95 L362.16 76.58 L362.58 76.20 L363.00 75.83 L363.41 75.46 L363.83 75.10 L364.25 74.73 L364.67 74.37 L365.08 74.01 L365.50 73.65 L365.92 73.29 L366.34 72.93 L366.75 72.58 L367.17 72.23 L367.59 71.88 L368.01 71.53 L368.43 71.18 L368.84 70.84 L369.26 70.50 L369.68 70.16 L370.10 69.82 L370.51 69.48 L370.93 69.15 L371.35 68.82 L371.77 68.48 L372.18 68.16 L372.60 67.83 L373.02 67.51 L373.44 67.18 L373.85 66.86 L374.27 66.54 L374.69 66.23 L375.11 65.91 L375.53 65.60 L375.94 65.29 L376.36 64.98 L376.78 64.68 L377.20 64.37 L377.61 64.07 L378.03 63.77 L378.45 63.47 L378.87 63.17 L379.28 62.88 L379.70 62.59 L380.12 62.30 L380.54 62.01 L380.95 61.72 L381.37 61.44 L381.79 61.15 L382.21 60.87 L382.63 60.59 L383.04 60.32 L383.46 60.04 L383.88 59.77 L384.30 59.50 L384.71 59.23 L385.13 58.97 L385.55 58.70 L385.97 58.44 L386.38 58.18 L386.80 57.92 L387.22 57.66 L387.64 57.41 L388.06 57.16 L388.47 56.91 L388.89 56.66 L389.31 56.41 L389.73 56.17 L390.14 55.92 L390.56 55.68 L390.98 55.44 L391.40 55.21 L391.81 54.97 L392.23 54.74 L392.65 54.51 L393.07 54.28 L393.48 54.05 L393.90 53.82 L394.32 53.60 L394.74 53.38 L395.16 53.16 L395.57 52.94 L395.99 52.73 L396.41 52.51 L396.83 52.30 L397.24 52.09 L397.66 51.88 L398.08 51.68 L398.50 51.47 L398.91 51.27 L399.33 51.07 L399.75 50.87 L400.17 50.67 L400.58 50.48 L401.00 50.28 L401.42 50.09 L401.84 49.90 L402.26 49.71 L402.67 49.53 L403.09 49.34 L403.51 49.16 L403.93 48.98 L404.34 48.80 L404.76 48.62 L405.18 48.45 L405.60 48.27 L406.01 48.10 L406.43 47.93 L406.85 47.76 L407.27 47.60 L407.69 47.43 L408.10 47.27 L408.52 47.11 L408.94 46.95 L409.36 46.79 L409.77 46.63 L410.19 46.48 L410.61 46.32 L411.03 46.17 L411.44 46.02 L411.86 45.87 L412.28 45.73 L412.70 45.58 L413.11 45.44 L413.53 45.30 L413.95 45.16 L414.37 45.02 L414.79 44.88 L415.20 44.74 L415.62 44.61 L416.04 44.48 L416.46 44.35 L416.87 44.22 L417.29 44.09 L417.71 43.96 L418.13 43.84 L418.54 43.72 L418.96 43.59 L419.38 43.47 L419.80 43.36 L420.21 43.24 L420.63 43.12 L421.05 43.01 L421.47 42.90 L421.89 42.78 L422.30 42.67 L422.72 42.57 L423.14 42.46 L423.56 42.35 L423.97 42.25 L424.39 42.15 L424.81 42.04 L425.23 41.94 L425.64 41.85 L426.06 41.75 L426.48 41.65 L426.90 41.56 L427.32 41.46 L427.73 41.37 L428.15 41.28 L428.57 41.19 L428.99 41.10 L429.40 41.02 L429.82 40.93 L430.24 40.85 L430.66 40.76 L431.07 40.68 L431.49 40.60 L431.91 40.52 L432.33 40.44 L432.74 40.37 L433.16 40.29 L433.58 40.22 L434.00 40.14 L434.42 40.07 L434.83 40.00 L435.25 39.93 L435.67 39.86 L436.09 39.79 L436.50 39.72 L436.92 39.66 L437.34 39.59 L437.76 39.53 L438.17 39.47 L438.59 39.41 L439.01 39.35 L439.43 39.29 L439.85 39.23 L440.26 39.17 L440.68 39.12 L441.10 39.06 L441.52 39.01 L441.93 38.96 L442.35 38.90 L442.77 38.85 L443.19 38.80 L443.60 38.75 L444.02 38.71 L444.44 38.66 L444.86 38.61 L445.27 38.57 L445.69 38.52 L446.11 38.48 L446.53 38.44 L446.95 38.39 L447.36 38.35 L447.78 38.31 L448.20 38.27 L448.62 38.24 L449.03 38.20 L449.45 38.16 L449.87 38.13 L450.29 38.09 L450.70 38.06 L451.12 38.03 L451.54 37.99 L451.96 37.96 L452.37 37.93 L452.79 37.90 L453.21 37.87 L453.63 37.84 L454.05 37.81 L454.46 37.79 L454.88 37.76 L455.30 37.74 L455.72 37.71 L456.13 37.69 L456.55 37.66 L456.97 37.64 L457.39 37.62 L457.80 37.60 L458.22 37.57 L458.64 37.55 L459.06 37.53 L459.48 37.52 L459.89 37.50 L460.31 37.48 L460.73 37.46 L461.15 37.45 L461.56 37.43 L461.98 37.42 L462.40 37.40 L462.82 37.39 L463.23 37.37 L463.65 37.36 L464.07 37.35 L464.49 37.34 L464.90 37.32 L465.32 37.31 L465.74 37.30 L466.16 37.29 L466.58 37.28 L466.99 37.27 L467.41 37.27 L467.83 37.26 L468.25 37.25 L468.66 37.24 L469.08 37.24 L469.50 37.23 L469.92 37.23 L470.33 37.22 L470.75 37.22 L471.17 37.21 L471.59 37.21 L472.00 37.20 L472.42 37.20 L472.84 37.20 L473.26 37.20 L473.68 37.19 L474.09 37.19 L474.51 37.19 L474.93 37.19 L475.35 37.19 L475.76 37.19 L476.18 37.19 L476.60 37.19 L477.02 37.19 L477.43 37.19 L477.85 37.20 L478.27 37.20 L478.69 37.20 L479.11 37.20 L479.52 37.20 L479.94 37.21 L480.36 37.21 L480.78 37.22 L481.19 37.22 L481.61 37.22 L482.03 37.23 L482.45 37.23 L482.86 37.24 L483.28 37.24 L483.70 37.25 L484.12 37.25 L484.53 37.26 L484.95 37.27 L485.37 37.27 L485.79 37.28 L486.21 37.29 L486.62 37.29 L487.04 37.30 L487.46 37.31 L487.88 37.31 L488.29 37.32 L488.71 37.33 L489.13 37.34 L489.55 37.35 L489.96 37.35 L490.38 37.36 L490.80 37.37 L491.22 37.38 L491.64 37.39 L492.05 37.40 L492.47 37.41 L492.89 37.42 L493.31 37.43 L493.72 37.44 L494.14 37.44 L494.56 37.45 L494.98 37.46 L495.39 37.47 L495.81 37.48 L496.23 37.49 L496.65 37.50 L497.06 37.51 L497.48 37.53 L497.90 37.54 L498.32 37.55 L498.74 37.56 L499.15 37.57 L499.57 37.58 L499.99 37.59 L500.41 37.60 L500.82 37.61 L501.24 37.62 L501.66 37.63 L502.08 37.64 L502.49 37.65 L502.91 37.66 L503.33 37.68 L503.75 37.69 L504.16 37.70 L504.58 37.71 L505.00 37.72 L505.42 37.73 L505.84 37.74 L506.25 37.75 L506.67 37.76 L507.09 37.78 L507.51 37.79 L507.92 37.80 L508.34 37.81 L508.76 37.82 L509.18 37.83 L509.59 37.84 L510.01 37.85 L510.43 37.86 L510.85 37.87 L511.27 37.89 L511.68 37.90 L512.10 37.91 L512.52 37.92 L512.94 37.93 L513.35 37.94 L513.77 37.95 L514.19 37.96 L514.61 37.97 L515.02 37.98 L515.44 37.99 L515.86 38.00 L516.28 38.01 L516.69 38.02 L517.11 38.03 L517.53 38.04 L517.95 38.05 L518.37 38.06 L518.78 38.07 L519.20 38.08 L519.62 38.09 L520.04 38.10 L520.45 38.11 L520.87 38.12 L521.29 38.13 L521.71 38.14 L522.12 38.15 L522.54 38.16 L522.96 38.16 L523.38 38.17 L523.79 38.18 L524.21 38.19 L524.63 38.20 L525.05 38.21 L525.47 38.22 L525.88 38.22 L526.30 38.23 L526.72 38.24 L527.14 38.25 L527.55 38.26 L527.97 38.26 L528.39 38.27 L528.81 38.28 L529.22 38.29 L529.64 38.29 L530.06 38.30 L530.48 38.31 L530.90 38.31 L531.31 38.32 L531.73 38.33 L532.15 38.33 L532.57 38.34 L532.98 38.35 L533.40 38.35 L533.82 38.36 L534.24 38.36 L534.65 38.37 L535.07 38.37 L535.49 38.38 L535.91 38.38 L536.32 38.39 L536.74 38.40 L537.16 38.40 L537.58 38.40 L538.00 38.41 L538.41 38.41 L538.83 38.42 L539.25 38.42 L539.67 38.43 L540.08 38.43 L540.50 38.43 L540.92 38.44 L541.34 38.44 L541.75 38.44 L542.17 38.45 L542.59 38.45 L543.01 38.45 L543.43 38.46 L543.84 38.46 L544.26 38.46 L544.68 38.46 L545.10 38.47 L545.51 38.47 L545.93 38.47 L546.35 38.47 L546.77 38.47 L547.18 38.48 L547.60 38.48 L548.02 38.48 L548.44 38.48 L548.85 38.48 L549.27 38.48 L549.69 38.48 L550.11 38.48 L550.53 38.48 L550.94 38.48 L551.36 38.48 L551.78 38.48 L552.20 38.48 L552.61 38.48 L553.03 38.48 L553.45 38.48 L553.87 38.48 L554.28 38.48 L554.70 38.48 L555.12 38.48 L555.54 38.48 L555.95 38.48 L556.37 38.48 L556.79 38.47 L557.21 38.47 L557.63 38.47 L558.04 38.47 L558.46 38.47 L558.88 38.46 L559.30 38.46 L559.71 38.46 L560.13 38.46 L560.55 38.45 L560.97 38.45 L561.38 38.45 L561.80 38.44 L562.22 38.44 L562.64 38.44 L563.06 38.43 L563.47 38.43 L563.89 38.43 L564.31 38.42 L564.73 38.42 L565.14 38.41 L565.56 38.41 L565.98 38.40 L566.40 38.40 L566.81 38.40 L567.23 38.39 L567.65 38.39 L568.07 38.38 L568.48 38.38 L568.90 38.37 L569.32 38.36 L569.74 38.36 L570.16 38.35 L570.57 38.35 L570.99 38.34 L571.41 38.34 L571.83 38.33 L572.24 38.32 L572.66 38.32 L573.08 38.31 L573.50 38.30 L573.91 38.30 L574.33 38.29 L574.75 38.28 L575.17 38.28 L575.58 38.27 L576.00 38.26 L576.42 38.25 L576.84 38.25 L577.26 38.24 L577.67 38.23 L578.09 38.22 L578.51 38.22 L578.93 38.21 L579.34 38.20 L579.76 38.19 L580.18 38.18 L580.60 38.18 L581.01 38.17 L581.43 38.16 L581.85 38.15 L582.27 38.14 L582.69 38.13 L583.10 38.12 L583.52 38.11 L583.94 38.11 L584.36 38.10 L584.77 38.09 L585.19 38.08 L585.61 38.07 L586.03 38.06 L586.44 38.05 L586.86 38.04 L587.28 38.03 L587.70 38.02 L588.11 38.01 L588.53 38.00 L588.95 37.99 L589.37 37.98 L589.79 37.97 L590.20 37.96 L590.62 37.95 L591.04 37.94 L591.46 37.93 L591.87 37.92 L592.29 37.91 L592.71 37.90 L593.13 37.89 L593.54 37.87 L593.96 37.86 L594.38 37.85 L594.80 37.84 L595.21 37.83 L595.63 37.82 L596.05 37.81 L596.47 37.80 L596.89 37.79 L597.30 37.77 L597.72 37.76 L598.14 37.75 L598.56 37.74 L598.97 37.73 L599.39 37.72 L599.81 37.71 L600.23 37.69 L600.64 37.68 L601.06 37.67 L601.48 37.66 L601.90 37.65 L602.32 37.63 L602.73 37.62 L603.15 37.61 L603.57 37.60 L603.99 37.59 L604.40 37.57 L604.82 37.56 L605.24 37.55 L605.66 37.54 L606.07 37.52 L606.49 37.51 L606.91 37.50 L607.33 37.49 L607.74 37.47 L608.16 37.46 L608.58 37.45 L609.00 37.44 L609.42 37.42 L609.83 37.41 L610.25 37.40 L610.67 37.39 L611.09 37.37 L611.50 37.36 L611.92 37.35 L612.34 37.34 L612.76 37.32 L613.17 37.31 L613.59 37.30 L614.01 37.29 L614.43 37.27 L614.85 37.26 L615.26 37.25 L615.68 37.23 L616.10 37.22 L616.52 37.21 L616.93 37.19 L617.35 37.18 L617.77 37.17 L618.19 37.16 L618.60 37.14 L619.02 37.13 L619.44 37.12 L619.86 37.10 L620.27 37.09 L620.69 37.08 L621.11 37.07 L621.53 37.05 L621.95 37.04 L622.36 37.03 L622.78 37.01 L623.20 37.00 L623.62 36.99 L624.03 36.97 L624.45 36.96 L624.87 36.95 L625.29 36.94 L625.70 36.92 L626.12 36.91 L626.54 36.90 L626.96 36.88 L627.37 36.87 L627.79 36.86 L628.21 36.84 L628.63 36.83 L629.05 36.82 L629.46 36.81 L629.88 36.79 L630.30 36.78 L630.72 36.77 L631.13 36.75 L631.55 36.74 L631.97 36.73 L632.39 36.72 L632.80 36.70 L633.22 36.69 L633.64 36.68 L634.06 36.67 L634.48 36.65 L634.89 36.64 L635.31 36.63 L635.73 36.61 L636.15 36.60 L636.56 36.59 L636.98 36.58 L637.40 36.56 L637.82 36.55 L638.23 36.54 L638.65 36.53 L639.07 36.51 L639.49 36.50 L639.90 36.49 L640.32 36.48 L640.74 36.46 L641.16 36.45 L641.58 36.44 L641.99 36.43 L642.41 36.42 L642.83 36.40 L643.25 36.39 L643.66 36.38 L644.08 36.37 L644.50 36.36 L644.92 36.34 L645.33 36.33 L645.75 36.32 L646.17 36.31 L646.59 36.30 L647.00 36.28 L647.42 36.27 L647.84 36.26 L648.26 36.25 L648.68 36.24 L649.09 36.23 L649.51 36.21 L649.93 36.20 L650.35 36.19 L650.76 36.18 L651.18 36.17 L651.60 36.16 L652.02 36.14 L652.43 36.13 L652.85 36.12 L653.27 36.11 L653.69 36.10 L654.11 36.09 L654.52 36.08 L654.94 36.07 L655.36 36.06 L655.78 36.04 L656.19 36.03 L656.61 36.02 L657.03 36.01 L657.45 36.00 L657.86 35.99 L658.28 35.98 L658.70 35.97 L659.12 35.96 L659.53 35.95 L659.95 35.94 L660.37 35.93 L660.79 35.92 L661.21 35.91 L661.62 35.89 L662.04 35.88 L662.46 35.87 L662.88 35.86 L663.29 35.85 L663.71 35.84 L664.13 35.83 L664.55 35.82 L664.96 35.81 L665.38 35.80 L665.80 35.79 L666.22 35.78 L666.64 35.77 L667.05 35.76 L667.47 35.76 L667.89 35.75 L668.31 35.74 L668.72 35.73 L669.14 35.72 L669.56 35.71 L669.98 35.70 L670.39 35.69 L670.81 35.68 L671.23 35.67 L671.65 35.66 L672.06 35.65 L672.48 35.64 L672.90 35.63 L673.32 35.63 L673.74 35.62 L674.15 35.61 L674.57 35.60 L674.99 35.59 L675.41 35.58 L675.82 35.57 L676.24 35.56 L676.66 35.56 L677.08 35.55 L677.49 35.54 L677.91 35.53 L678.33 35.52 L678.75 35.51 L679.16 35.51 L679.58 35.50 L680.00 35.49 L680.42 35.48 L680.84 35.47 L681.25 35.47 L681.67 35.46 L682.09 35.45 L682.51 35.44 L682.92 35.43 L683.34 35.43 L683.76 35.42 L684.18 35.41 L684.59 35.40 L685.01 35.40 L685.43 35.39 L685.85 35.38 L686.27 35.37 L686.68 35.37 L687.10 35.36 L687.52 35.35 L687.94 35.35 L688.35 35.34 L688.77 35.33 L689.19 35.32 L689.61 35.32 L690.02 35.31 L690.44 35.30 L690.86 35.30 L691.28 35.29 L691.69 35.28 L692.11 35.28 L692.53 35.27 L692.95 35.26 L693.37 35.26 L693.78 35.25 L694.20 35.25 L694.62 35.24 L695.04 35.23 L695.45 35.23 L695.87 35.22 L696.29 35.21 L696.71 35.21 L697.12 35.20 L697.54 35.20 L697.96 35.19 L698.38 35.19 L698.79 35.18 L699.21 35.17 L699.63 35.17 L700.05 35.16 L700.47 35.16 L700.88 35.15 L701.30 35.15 L701.72 35.14 L702.14 35.14 L702.55 35.13 L702.97 35.12 L703.39 35.12 L703.81 35.11 L704.22 35.11 L704.64 35.10 L705.06 35.10 L705.48 35.09 L705.90 35.09 L706.31 35.08 L706.73 35.08 L707.15 35.08 L707.57 35.07 L707.98 35.07 L708.40 35.06 L708.82 35.06 L709.24 35.05 L709.65 35.05 L710.07 35.04 L710.49 35.04 L710.91 35.03 L711.32 35.03 L711.74 35.03 L712.16 35.02 L712.58 35.02 L713.00 35.01 L713.41 35.01 L713.83 35.01 L714.25 35.00 L714.67 35.00 L715.08 34.99 L715.50 34.99 L715.92 34.99 L716.34 34.98 L716.75 34.98 L717.17 34.97 L717.59 34.97 L718.01 34.97 L718.42 34.96 L718.84 34.96 L719.26 34.96 L719.68 34.95 L720.10 34.95 L720.51 34.95 L720.93 34.94 L721.35 34.94 L721.77 34.94 L722.18 34.93 L722.60 34.93 L723.02 34.93 L723.44 34.92 L723.85 34.92 L724.27 34.92 L724.69 34.92 L725.11 34.91 L725.53 34.91 L725.94 34.91 L726.36 34.90 L726.78 34.90 L727.20 34.90 L727.61 34.90 L728.03 34.89 L728.45 34.89 L728.87 34.89 L729.28 34.88 L729.70 34.88 L730.12 34.88 L730.54 34.88 L730.95 34.88 L731.37 34.87 L731.79 34.87 L732.21 34.87 L732.63 34.87 L733.04 34.86 L733.46 34.86 L733.88 34.86 L734.30 34.86 L734.71 34.85 L735.13 34.85 L735.55 34.85 L735.97 34.85 L736.38 34.85 L736.80 34.84 L737.22 34.84 L737.64 34.84 L738.06 34.84 L738.47 34.84 L738.89 34.84 L739.31 34.83 L739.73 34.83 L740.14 34.83 L740.56 34.83 L740.98 34.83 L741.40 34.83 L741.81 34.82 L742.23 34.82 L742.65 34.82 L743.07 34.82 L743.48 34.82 L743.90 34.82 L744.32 34.81 L744.74 34.81 L745.16 34.81 L745.57 34.81 L745.99 34.81 L746.41 34.81 L746.83 34.81 L747.24 34.81 L747.66 34.80 L748.08 34.80 L748.50 34.80 L748.91 34.80 L749.33 34.80 L749.75 34.80 L750.17 34.80 L750.58 34.80 L751.00 34.80 L751.42 34.79 L751.84 34.79 L752.26 34.79 L752.67 34.79 L753.09 34.79 L753.51 34.79 L753.93 34.79 L754.34 34.79 L754.76 34.79 L755.18 34.79 L755.60 34.79 L756.01 34.78 L756.43 34.78 L756.85 34.78 L757.27 34.78 L757.69 34.78 L758.10 34.78 L758.52 34.78 L758.94 34.78 L759.36 34.78 L759.77 34.78 L760.19 34.78 L760.61 34.78 L761.03 34.78 L761.44 34.78 L761.86 34.78 L762.28 34.77 L762.70 34.77 L763.11 34.77 L763.53 34.77 L763.95 34.77 L764.37 34.77 L764.79 34.77 L765.20 34.77 L765.62 34.77 L766.04 34.77 L766.46 34.77 L766.87 34.77 L767.29 34.77 L767.71 34.77 L768.13 34.77 L768.54 34.77 L768.96 34.77 L769.38 34.77 L769.80 34.77 L770.21 34.77 L770.63 34.77 L771.05 34.77 L771.47 34.77 L771.89 34.77 L772.30 34.77 L772.72 34.77 L773.14 34.77 L773.56 34.77 L773.97 34.77 L774.39 34.77 L774.81 34.77 L775.23 34.77 L775.64 34.77 L776.06 34.77 L776.48 34.77 L776.90 34.77 L777.32 34.77 L777.73 34.77 L778.15 34.77 L778.57 34.77 L778.99 34.77 L779.40 34.77 L779.82 34.77 L780.24 34.77 L780.66 34.77 L781.07 34.77 L781.49 34.77 L781.91 34.77 L782.33 34.77 L782.74 34.77 L783.16 34.77 L783.58 34.77 L784.00 34.77 L784.42 34.77 L784.83 34.77 L785.25 34.77 L785.67 34.77 L786.09 34.77 L786.50 34.77 L786.92 34.77 L787.34 34.77 L787.76 34.77 L788.17 34.77 L788.59 34.77 L789.01 34.77 L789.43 34.77 L789.85 34.77 L790.26 34.77 L790.68 34.77 L791.10 34.77 L791.52 34.77 L791.93 34.77 L792.35 34.77 L792.77 34.77 L793.19 34.77 L793.60 34.77 L794.02 34.77 L794.44 34.77 L794.86 34.77 L795.27 34.77 L795.69 34.77 L796.11 34.77 L796.53 34.77 L796.95 34.77 L797.36 34.77 L797.78 34.77 L798.20 34.77 L798.62 34.77 L799.03 34.77 L799.45 34.77 L799.87 34.77 L800.29 34.78 L800.70 34.78 L801.12 34.78 L801.54 34.78 L801.96 34.78 L802.37 34.78 L802.79 34.78 L803.21 34.78 L803.63 34.78 L804.05 34.78 L804.46 34.78 L804.88 34.78 L805.30 34.78 L805.72 34.78 L806.13 34.78 L806.55 34.78 L806.97 34.78 L807.39 34.78 L807.80 34.78 L808.22 34.78 L808.64 34.78 L809.06 34.78 L809.48 34.78 L809.89 34.78 L810.31 34.78 L810.73 34.78 L811.15 34.78 L811.56 34.78 L811.98 34.78 L812.40 34.78 L812.82 34.78 L813.23 34.78 L813.65 34.78 L814.07 34.78 L814.49 34.78 L814.90 34.79 L815.32 34.79 L815.74 34.79" stroke="#ff0000" stroke-width="3.8" stroke-dasharray="7.1 7.08"/>
<path d="M147.83 320.52 L147.90 320.02 L148.32 317.18 L148.74 314.37 L149.15 311.59 L149.57 308.83 L149.99 306.10 L150.41 303.40 L150.82 300.73 L151.24 298.09 L151.66 295.47 L152.08 292.88 L152.49 290.31 L152.91 287.78 L153.33 285.27 L153.75 282.79 L154.16 280.33 L154.58 277.90 L155.00 275.50 L155.42 273.12 L155.84 270.77 L156.25 268.44 L156.67 266.14 L157.09 263.87 L157.51 261.62 L157.92 259.39 L158.34 257.19 L158.76 255.02 L159.18 252.87 L159.59 250.74 L160.01 248.64 L160.43 246.57 L160.85 244.51 L161.27 242.48 L161.68 240.48 L162.10 238.50 L162.52 236.54 L162.94 234.60 L163.35 232.69 L163.77 230.80 L164.19 228.94 L164.61 227.09 L165.02 225.27 L165.44 223.47 L165.86 221.69 L166.28 219.94 L166.69 218.21 L167.11 216.50 L167.53 214.81 L167.95 213.14 L168.37 211.49 L168.78 209.86 L169.20 208.26 L169.62 206.67 L170.04 205.11 L170.45 203.57 L170.87 202.04 L171.29 200.54 L171.71 199.06 L172.12 197.59 L172.54 196.15 L172.96 194.72 L173.38 193.32 L173.79 191.93 L174.21 190.56 L174.63 189.22 L175.05 187.89 L175.47 186.58 L175.88 185.28 L176.30 184.01 L176.72 182.75 L177.14 181.51 L177.55 180.29 L177.97 179.09 L178.39 177.90 L178.81 176.73 L179.22 175.58 L179.64 174.45 L180.06 173.33 L180.48 172.23 L180.90 171.14 L181.31 170.08 L181.73 169.02 L182.15 167.99 L182.57 166.97 L182.98 165.96 L183.40 164.97 L183.82 164.00 L184.24 163.04 L184.65 162.10 L185.07 161.17 L185.49 160.26 L185.91 159.36 L186.32 158.48 L186.74 157.61 L187.16 156.75 L187.58 155.91 L188.00 155.08 L188.41 154.27 L188.83 153.47 L189.25 152.68 L189.67 151.91 L190.08 151.15 L190.50 150.41 L190.92 149.67 L191.34 148.95 L191.75 148.24 L192.17 147.55 L192.59 146.87 L193.01 146.20 L193.43 145.54 L193.84 144.89 L194.26 144.26 L194.68 143.63 L195.10 143.02 L195.51 142.42 L195.93 141.83 L196.35 141.26 L196.77 140.69 L197.18 140.14 L197.60 139.59 L198.02 139.06 L198.44 138.53 L198.85 138.02 L199.27 137.52 L199.69 137.02 L200.11 136.54 L200.53 136.07 L200.94 135.61 L201.36 135.15 L201.78 134.71 L202.20 134.27 L202.61 133.85 L203.03 133.43 L203.45 133.02 L203.87 132.63 L204.28 132.24 L204.70 131.86 L205.12 131.48 L205.54 131.12 L205.95 130.76 L206.37 130.41 L206.79 130.08 L207.21 129.74 L207.63 129.42 L208.04 129.10 L208.46 128.79 L208.88 128.49 L209.30 128.20 L209.71 127.91 L210.13 127.63 L210.55 127.36 L210.97 127.10 L211.38 126.84 L211.80 126.58 L212.22 126.34 L212.64 126.10 L213.06 125.87 L213.47 125.64 L213.89 125.42 L214.31 125.21 L214.73 125.00 L215.14 124.79 L215.56 124.60 L215.98 124.41 L216.40 124.22 L216.81 124.04 L217.23 123.87 L217.65 123.70 L218.07 123.53 L218.48 123.37 L218.90 123.22 L219.32 123.07 L219.74 122.92 L220.16 122.78 L220.57 122.65 L220.99 122.52 L221.41 122.39 L221.83 122.27 L222.24 122.15 L222.66 122.04 L223.08 121.93 L223.50 121.82 L223.91 121.72 L224.33 121.62 L224.75 121.53 L225.17 121.44 L225.58 121.35 L226.00 121.26 L226.42 121.18 L226.84 121.11 L227.26 121.03 L227.67 120.96 L228.09 120.89 L228.51 120.83 L228.93 120.77 L229.34 120.71 L229.76 120.65 L230.18 120.60 L230.60 120.54 L231.01 120.50 L231.43 120.45 L231.85 120.41 L232.27 120.36 L232.69 120.32 L233.10 120.29 L233.52 120.25 L233.94 120.22 L234.36 120.19 L234.77 120.16 L235.19 120.13 L235.61 120.10 L236.03 120.08 L236.44 120.06 L236.86 120.04 L237.28 120.02 L237.70 120.00 L238.11 119.98 L238.53 119.97 L238.95 119.95 L239.37 119.94 L239.79 119.93 L240.20 119.92 L240.62 119.91 L241.04 119.90 L241.46 119.89 L241.87 119.89 L242.29 119.88 L242.71 119.87 L243.13 119.87 L243.54 119.87 L243.96 119.86 L244.38 119.86 L244.80 119.86 L245.22 119.86 L245.63 119.85 L246.05 119.85 L246.47 119.85 L246.89 119.85 L247.30 119.85 L247.72 119.85 L248.14 119.85 L248.56 119.85 L248.97 119.85 L249.39 119.85 L249.81 119.85 L250.23 119.85 L250.64 119.85 L251.06 119.85 L251.48 119.85 L251.90 119.85 L252.32 119.85 L252.73 119.85 L253.15 119.84 L253.57 119.84 L253.99 119.84 L254.40 119.84 L254.82 119.83 L255.24 119.83 L255.66 119.82 L256.07 119.82 L256.49 119.81 L256.91 119.80 L257.33 119.80 L257.74 119.79 L258.16 119.78 L258.58 119.77 L259.00 119.76 L259.42 119.75 L259.83 119.73 L260.25 119.72 L260.67 119.71 L261.09 119.69 L261.50 119.67 L261.92 119.66 L262.34 119.64 L262.76 119.62 L263.17 119.60 L263.59 119.58 L264.01 119.56 L264.43 119.53 L264.85 119.51 L265.26 119.48 L265.68 119.45 L266.10 119.42 L266.52 119.39 L266.93 119.36 L267.35 119.33 L267.77 119.30 L268.19 119.26 L268.60 119.23 L269.02 119.19 L269.44 119.15 L269.86 119.11 L270.27 119.07 L270.69 119.02 L271.11 118.98 L271.53 118.93 L271.95 118.88 L272.36 118.83 L272.78 118.78 L273.20 118.73 L273.62 118.68 L274.03 118.62 L274.45 118.56 L274.87 118.51 L275.29 118.45 L275.70 118.38 L276.12 118.32 L276.54 118.26 L276.96 118.19 L277.37 118.12 L277.79 118.05 L278.21 117.98 L278.63 117.91 L279.05 117.84 L279.46 117.76 L279.88 117.68 L280.30 117.60 L280.72 117.52 L281.13 117.44 L281.55 117.35 L281.97 117.27 L282.39 117.18 L282.80 117.09 L283.22 117.00 L283.64 116.91 L284.06 116.81 L284.48 116.72 L284.89 116.62 L285.31 116.52 L285.73 116.42 L286.15 116.32 L286.56 116.21 L286.98 116.11 L287.40 116.00 L287.82 115.89 L288.23 115.78 L288.65 115.67 L289.07 115.55 L289.49 115.44 L289.90 115.32 L290.32 115.20 L290.74 115.08 L291.16 114.96 L291.58 114.83 L291.99 114.70 L292.41 114.58 L292.83 114.45 L293.25 114.32 L293.66 114.18 L294.08 114.05 L294.50 113.91 L294.92 113.78 L295.33 113.64 L295.75 113.50 L296.17 113.35 L296.59 113.21 L297.00 113.06 L297.42 112.92 L297.84 112.77 L298.26 112.62 L298.68 112.47 L299.09 112.31 L299.51 112.16 L299.93 112.00 L300.35 111.84 L300.76 111.68 L301.18 111.52 L301.60 111.36 L302.02 111.19 L302.43 111.03 L302.85 110.86 L303.27 110.69 L303.69 110.52 L304.11 110.35 L304.52 110.18 L304.94 110.00 L305.36 109.83 L305.78 109.65 L306.19 109.47 L306.61 109.29 L307.03 109.11 L307.45 108.93 L307.86 108.74 L308.28 108.55 L308.70 108.37 L309.12 108.18 L309.53 107.99 L309.95 107.80 L310.37 107.61 L310.79 107.41 L311.21 107.22 L311.62 107.02 L312.04 106.82 L312.46 106.63 L312.88 106.43 L313.29 106.22 L313.71 106.02 L314.13 105.82 L314.55 105.61 L314.96 105.41 L315.38 105.20 L315.80 104.99 L316.22 104.78 L316.64 104.57 L317.05 104.36 L317.47 104.15 L317.89 103.94 L318.31 103.72 L318.72 103.51 L319.14 103.29 L319.56 103.07 L319.98 102.85 L320.39 102.63 L320.81 102.41 L321.23 102.19 L321.65 101.97 L322.06 101.74 L322.48 101.52 L322.90 101.29 L323.32 101.07 L323.74 100.84 L324.15 100.61 L324.57 100.38 L324.99 100.15 L325.41 99.92 L325.82 99.69 L326.24 99.46 L326.66 99.23 L327.08 98.99 L327.49 98.76 L327.91 98.52 L328.33 98.29 L328.75 98.05 L329.16 97.81 L329.58 97.57 L330.00 97.33 L330.42 97.10 L330.84 96.86 L331.25 96.61 L331.67 96.37 L332.09 96.13 L332.51 95.89 L332.92 95.65 L333.34 95.40 L333.76 95.16 L334.18 94.91 L334.59 94.67 L335.01 94.42 L335.43 94.18 L335.85 93.93 L336.27 93.68 L336.68 93.44 L337.10 93.19 L337.52 92.94 L337.94 92.69 L338.35 92.44 L338.77 92.19 L339.19 91.94 L339.61 91.69 L340.02 91.44 L340.44 91.19 L340.86 90.94 L341.28 90.69 L341.69 90.44 L342.11 90.18 L342.53 89.93 L342.95 89.68 L343.37 89.43 L343.78 89.17 L344.20 88.92 L344.62 88.67 L345.04 88.41 L345.45 88.16 L345.87 87.91 L346.29 87.65 L346.71 87.40 L347.12 87.15 L347.54 86.89 L347.96 86.64 L348.38 86.38 L348.79 86.13 L349.21 85.87 L349.63 85.62 L350.05 85.37 L350.47 85.11 L350.88 84.86 L351.30 84.60 L351.72 84.35 L352.14 84.09 L352.55 83.84 L352.97 83.59 L353.39 83.33 L353.81 83.08 L354.22 82.83 L354.64 82.57 L355.06 82.32 L355.48 82.07 L355.90 81.81 L356.31 81.56 L356.73 81.31 L357.15 81.05 L357.57 80.80 L357.98 80.55 L358.40 80.30 L358.82 80.05 L359.24 79.80 L359.65 79.54 L360.07 79.29 L360.49 79.04 L360.91 78.79 L361.32 78.54 L361.74 78.29 L362.16 78.04 L362.58 77.80 L363.00 77.55 L363.41 77.30 L363.83 77.05 L364.25 76.80 L364.67 76.56 L365.08 76.31 L365.50 76.06 L365.92 75.82 L366.34 75.57 L366.75 75.33 L367.17 75.08 L367.59 74.84 L368.01 74.60 L368.43 74.35 L368.84 74.11 L369.26 73.87 L369.68 73.63 L370.10 73.39 L370.51 73.15 L370.93 72.91 L371.35 72.67 L371.77 72.43 L372.18 72.19 L372.60 71.95 L373.02 71.72 L373.44 71.48 L373.85 71.24 L374.27 71.01 L374.69 70.77 L375.11 70.54 L375.53 70.31 L375.94 70.07 L376.36 69.84 L376.78 69.61 L377.20 69.38 L377.61 69.15 L378.03 68.92 L378.45 68.69 L378.87 68.46 L379.28 68.24 L379.70 68.01 L380.12 67.78 L380.54 67.56 L380.95 67.33 L381.37 67.11 L381.79 66.89 L382.21 66.66 L382.63 66.44 L383.04 66.22 L383.46 66.00 L383.88 65.78 L384.30 65.56 L384.71 65.35 L385.13 65.13 L385.55 64.91 L385.97 64.70 L386.38 64.48 L386.80 64.27 L387.22 64.06 L387.64 63.84 L388.06 63.63 L388.47 63.42 L388.89 63.21 L389.31 63.00 L389.73 62.80 L390.14 62.59 L390.56 62.38 L390.98 62.18 L391.40 61.97 L391.81 61.77 L392.23 61.57 L392.65 61.36 L393.07 61.16 L393.48 60.96 L393.90 60.76 L394.32 60.56 L394.74 60.37 L395.16 60.17 L395.57 59.97 L395.99 59.78 L396.41 59.58 L396.83 59.39 L397.24 59.20 L397.66 59.01 L398.08 58.82 L398.50 58.63 L398.91 58.44 L399.33 58.25 L399.75 58.06 L400.17 57.88 L400.58 57.69 L401.00 57.51 L401.42 57.33 L401.84 57.14 L402.26 56.96 L402.67 56.78 L403.09 56.60 L403.51 56.43 L403.93 56.25 L404.34 56.07 L404.76 55.90 L405.18 55.72 L405.60 55.55 L406.01 55.37 L406.43 55.20 L406.85 55.03 L407.27 54.86 L407.69 54.69 L408.10 54.52 L408.52 54.36 L408.94 54.19 L409.36 54.03 L409.77 53.86 L410.19 53.70 L410.61 53.54 L411.03 53.38 L411.44 53.22 L411.86 53.06 L412.28 52.90 L412.70 52.74 L413.11 52.58 L413.53 52.43 L413.95 52.27 L414.37 52.12 L414.79 51.97 L415.20 51.82 L415.62 51.67 L416.04 51.52 L416.46 51.37 L416.87 51.22 L417.29 51.07 L417.71 50.93 L418.13 50.78 L418.54 50.64 L418.96 50.49 L419.38 50.35 L419.80 50.21 L420.21 50.07 L420.63 49.93 L421.05 49.79 L421.47 49.66 L421.89 49.52 L422.30 49.38 L422.72 49.25 L423.14 49.12 L423.56 48.98 L423.97 48.85 L424.39 48.72 L424.81 48.59 L425.23 48.46 L425.64 48.34 L426.06 48.21 L426.48 48.08 L426.90 47.96 L427.32 47.83 L427.73 47.71 L428.15 47.59 L428.57 47.47 L428.99 47.35 L429.40 47.23 L429.82 47.11 L430.24 46.99 L430.66 46.87 L431.07 46.76 L431.49 46.64 L431.91 46.53 L432.33 46.42 L432.74 46.30 L433.16 46.19 L433.58 46.08 L434.00 45.97 L434.42 45.86 L434.83 45.76 L435.25 45.65 L435.67 45.54 L436.09 45.44 L436.50 45.33 L436.92 45.23 L437.34 45.13 L437.76 45.03 L438.17 44.93 L438.59 44.83 L439.01 44.73 L439.43 44.63 L439.85 44.53 L440.26 44.43 L440.68 44.34 L441.10 44.24 L441.52 44.15 L441.93 44.06 L442.35 43.96 L442.77 43.87 L443.19 43.78 L443.60 43.69 L444.02 43.60 L444.44 43.52 L444.86 43.43 L445.27 43.34 L445.69 43.26 L446.11 43.17 L446.53 43.09 L446.95 43.00 L447.36 42.92 L447.78 42.84 L448.20 42.76 L448.62 42.68 L449.03 42.60 L449.45 42.52 L449.87 42.44 L450.29 42.37 L450.70 42.29 L451.12 42.21 L451.54 42.14 L451.96 42.06 L452.37 41.99 L452.79 41.92 L453.21 41.85 L453.63 41.78 L454.05 41.71 L454.46 41.64 L454.88 41.57 L455.30 41.50 L455.72 41.43 L456.13 41.36 L456.55 41.30 L456.97 41.23 L457.39 41.17 L457.80 41.10 L458.22 41.04 L458.64 40.98 L459.06 40.92 L459.48 40.86 L459.89 40.80 L460.31 40.74 L460.73 40.68 L461.15 40.62 L461.56 40.56 L461.98 40.50 L462.40 40.45 L462.82 40.39 L463.23 40.34 L463.65 40.28 L464.07 40.23 L464.49 40.17 L464.90 40.12 L465.32 40.07 L465.74 40.02 L466.16 39.97 L466.58 39.92 L466.99 39.87 L467.41 39.82 L467.83 39.77 L468.25 39.72 L468.66 39.67 L469.08 39.63 L469.50 39.58 L469.92 39.54 L470.33 39.49 L470.75 39.45 L471.17 39.40 L471.59 39.36 L472.00 39.32 L472.42 39.27 L472.84 39.23 L473.26 39.19 L473.68 39.15 L474.09 39.11 L474.51 39.07 L474.93 39.03 L475.35 38.99 L475.76 38.96 L476.18 38.92 L476.60 38.88 L477.02 38.85 L477.43 38.81 L477.85 38.77 L478.27 38.74 L478.69 38.70 L479.11 38.67 L479.52 38.64 L479.94 38.60 L480.36 38.57 L480.78 38.54 L481.19 38.51 L481.61 38.48 L482.03 38.45 L482.45 38.42 L482.86 38.39 L483.28 38.36 L483.70 38.33 L484.12 38.30 L484.53 38.27 L484.95 38.24 L485.37 38.22 L485.79 38.19 L486.21 38.16 L486.62 38.14 L487.04 38.11 L487.46 38.09 L487.88 38.06 L488.29 38.04 L488.71 38.02 L489.13 37.99 L489.55 37.97 L489.96 37.95 L490.38 37.92 L490.80 37.90 L491.22 37.88 L491.64 37.86 L492.05 37.84 L492.47 37.82 L492.89 37.80 L493.31 37.78 L493.72 37.76 L494.14 37.74 L494.56 37.72 L494.98 37.70 L495.39 37.68 L495.81 37.66 L496.23 37.65 L496.65 37.63 L497.06 37.61 L497.48 37.60 L497.90 37.58 L498.32 37.56 L498.74 37.55 L499.15 37.53 L499.57 37.52 L499.99 37.50 L500.41 37.49 L500.82 37.47 L501.24 37.46 L501.66 37.45 L502.08 37.43 L502.49 37.42 L502.91 37.41 L503.33 37.40 L503.75 37.38 L504.16 37.37 L504.58 37.36 L505.00 37.35 L505.42 37.34 L505.84 37.33 L506.25 37.31 L506.67 37.30 L507.09 37.29 L507.51 37.28 L507.92 37.27 L508.34 37.26 L508.76 37.25 L509.18 37.24 L509.59 37.24 L510.01 37.23 L510.43 37.22 L510.85 37.21 L511.27 37.20 L511.68 37.19 L512.10 37.19 L512.52 37.18 L512.94 37.17 L513.35 37.16 L513.77 37.16 L514.19 37.15 L514.61 37.14 L515.02 37.14 L515.44 37.13 L515.86 37.12 L516.28 37.12 L516.69 37.11 L517.11 37.11 L517.53 37.10 L517.95 37.10 L518.37 37.09 L518.78 37.08 L519.20 37.08 L519.62 37.08 L520.04 37.07 L520.45 37.07 L520.87 37.06 L521.29 37.06 L521.71 37.05 L522.12 37.05 L522.54 37.05 L522.96 37.04 L523.38 37.04 L523.79 37.03 L524.21 37.03 L524.63 37.03 L525.05 37.02 L525.47 37.02 L525.88 37.02 L526.30 37.02 L526.72 37.01 L527.14 37.01 L527.55 37.01 L527.97 37.01 L528.39 37.00 L528.81 37.00 L529.22 37.00 L529.64 37.00 L530.06 36.99 L530.48 36.99 L530.90 36.99 L531.31 36.99 L531.73 36.99 L532.15 36.99 L532.57 36.98 L532.98 36.98 L533.40 36.98 L533.82 36.98 L534.24 36.98 L534.65 36.98 L535.07 36.98 L535.49 36.98 L535.91 36.97 L536.32 36.97 L536.74 36.97 L537.16 36.97 L537.58 36.97 L538.00 36.97 L538.41 36.97 L538.83 36.97 L539.25 36.97 L539.67 36.97 L540.08 36.97 L540.50 36.97 L540.92 36.97 L541.34 36.97 L541.75 36.97 L542.17 36.97 L542.59 36.97 L543.01 36.97 L543.43 36.96 L543.84 36.96 L544.26 36.96 L544.68 36.96 L545.10 36.96 L545.51 36.96 L545.93 36.96 L546.35 36.96 L546.77 36.96 L547.18 36.96 L547.60 36.96 L548.02 36.96 L548.44 36.96 L548.85 36.96 L549.27 36.96 L549.69 36.96 L550.11 36.96 L550.53 36.96 L550.94 36.96 L551.36 36.96 L551.78 36.96 L552.20 36.96 L552.61 36.96 L553.03 36.96 L553.45 36.96 L553.87 36.96 L554.28 36.96 L554.70 36.96 L555.12 36.96 L555.54 36.96 L555.95 36.96 L556.37 36.96 L556.79 36.96 L557.21 36.96 L557.63 36.96 L558.04 36.96 L558.46 36.96 L558.88 36.96 L559.30 36.96 L559.71 36.96 L560.13 36.96 L560.55 36.96 L560.97 36.96 L561.38 36.96 L561.80 36.96 L562.22 36.96 L562.64 36.96 L563.06 36.96 L563.47 36.96 L563.89 36.96 L564.31 36.96 L564.73 36.96 L565.14 36.96 L565.56 36.96 L565.98 36.96 L566.40 36.96 L566.81 36.96 L567.23 36.95 L567.65 36.95 L568.07 36.95 L568.48 36.95 L568.90 36.95 L569.32 36.95 L569.74 36.95 L570.16 36.95 L570.57 36.95 L570.99 36.95 L571.41 36.95 L571.83 36.95 L572.24 36.94 L572.66 36.94 L573.08 36.94 L573.50 36.94 L573.91 36.94 L574.33 36.94 L574.75 36.94 L575.17 36.94 L575.58 36.94 L576.00 36.93 L576.42 36.93 L576.84 36.93 L577.26 36.93 L577.67 36.93 L578.09 36.93 L578.51 36.92 L578.93 36.92 L579.34 36.92 L579.76 36.92 L580.18 36.92 L580.60 36.92 L581.01 36.91 L581.43 36.91 L581.85 36.91 L582.27 36.91 L582.69 36.91 L583.10 36.90 L583.52 36.90 L583.94 36.90 L584.36 36.90 L584.77 36.89 L585.19 36.89 L585.61 36.89 L586.03 36.89 L586.44 36.89 L586.86 36.88 L587.28 36.88 L587.70 36.88 L588.11 36.87 L588.53 36.87 L588.95 36.87 L589.37 36.87 L589.79 36.86 L590.20 36.86 L590.62 36.86 L591.04 36.86 L591.46 36.85 L591.87 36.85 L592.29 36.85 L592.71 36.84 L593.13 36.84 L593.54 36.84 L593.96 36.83 L594.38 36.83 L594.80 36.83 L595.21 36.82 L595.63 36.82 L596.05 36.82 L596.47 36.81 L596.89 36.81 L597.30 36.81 L597.72 36.80 L598.14 36.80 L598.56 36.79 L598.97 36.79 L599.39 36.79 L599.81 36.78 L600.23 36.78 L600.64 36.78 L601.06 36.77 L601.48 36.77 L601.90 36.76 L602.32 36.76 L602.73 36.75 L603.15 36.75 L603.57 36.75 L603.99 36.74 L604.40 36.74 L604.82 36.73 L605.24 36.73 L605.66 36.72 L606.07 36.72 L606.49 36.72 L606.91 36.71 L607.33 36.71 L607.74 36.70 L608.16 36.70 L608.58 36.69 L609.00 36.69 L609.42 36.68 L609.83 36.68 L610.25 36.67 L610.67 36.67 L611.09 36.66 L611.50 36.66 L611.92 36.65 L612.34 36.65 L612.76 36.64 L613.17 36.64 L613.59 36.63 L614.01 36.63 L614.43 36.62 L614.85 36.62 L615.26 36.61 L615.68 36.61 L616.10 36.60 L616.52 36.60 L616.93 36.59 L617.35 36.59 L617.77 36.58 L618.19 36.57 L618.60 36.57 L619.02 36.56 L619.44 36.56 L619.86 36.55 L620.27 36.55 L620.69 36.54 L621.11 36.53 L621.53 36.53 L621.95 36.52 L622.36 36.52 L622.78 36.51 L623.20 36.51 L623.62 36.50 L624.03 36.49 L624.45 36.49 L624.87 36.48 L625.29 36.48 L625.70 36.47 L626.12 36.46 L626.54 36.46 L626.96 36.45 L627.37 36.45 L627.79 36.44 L628.21 36.43 L628.63 36.43 L629.05 36.42 L629.46 36.42 L629.88 36.41 L630.30 36.40 L630.72 36.40 L631.13 36.39 L631.55 36.38 L631.97 36.38 L632.39 36.37 L632.80 36.37 L633.22 36.36 L633.64 36.35 L634.06 36.35 L634.48 36.34 L634.89 36.33 L635.31 36.33 L635.73 36.32 L636.15 36.31 L636.56 36.31 L636.98 36.30 L637.40 36.29 L637.82 36.29 L638.23 36.28 L638.65 36.27 L639.07 36.27 L639.49 36.26 L639.90 36.26 L640.32 36.25 L640.74 36.24 L641.16 36.24 L641.58 36.23 L641.99 36.22 L642.41 36.22 L642.83 36.21 L643.25 36.20 L643.66 36.20 L644.08 36.19 L644.50 36.18 L644.92 36.18 L645.33 36.17 L645.75 36.16 L646.17 36.16 L646.59 36.15 L647.00 36.14 L647.42 36.13 L647.84 36.13 L648.26 36.12 L648.68 36.11 L649.09 36.11 L649.51 36.10 L649.93 36.09 L650.35 36.09 L650.76 36.08 L651.18 36.07 L651.60 36.07 L652.02 36.06 L652.43 36.05 L652.85 36.05 L653.27 36.04 L653.69 36.03 L654.11 36.03 L654.52 36.02 L654.94 36.01 L655.36 36.01 L655.78 36.00 L656.19 35.99 L656.61 35.99 L657.03 35.98 L657.45 35.97 L657.86 35.97 L658.28 35.96 L658.70 35.95 L659.12 35.95 L659.53 35.94 L659.95 35.93 L660.37 35.93 L660.79 35.92 L661.21 35.91 L661.62 35.91 L662.04 35.90 L662.46 35.89 L662.88 35.89 L663.29 35.88 L663.71 35.87 L664.13 35.87 L664.55 35.86 L664.96 35.85 L665.38 35.85 L665.80 35.84 L666.22 35.83 L666.64 35.83 L667.05 35.82 L667.47 35.81 L667.89 35.81 L668.31 35.80 L668.72 35.79 L669.14 35.79 L669.56 35.78 L669.98 35.77 L670.39 35.77 L670.81 35.76 L671.23 35.75 L671.65 35.75 L672.06 35.74 L672.48 35.74 L672.90 35.73 L673.32 35.72 L673.74 35.72 L674.15 35.71 L674.57 35.70 L674.99 35.70 L675.41 35.69 L675.82 35.68 L676.24 35.68 L676.66 35.67 L677.08 35.67 L677.49 35.66 L677.91 35.65 L678.33 35.65 L678.75 35.64 L679.16 35.63 L679.58 35.63 L680.00 35.62 L680.42 35.62 L680.84 35.61 L681.25 35.60 L681.67 35.60 L682.09 35.59 L682.51 35.59 L682.92 35.58 L683.34 35.57 L683.76 35.57 L684.18 35.56 L684.59 35.56 L685.01 35.55 L685.43 35.54 L685.85 35.54 L686.27 35.53 L686.68 35.53 L687.10 35.52 L687.52 35.51 L687.94 35.51 L688.35 35.50 L688.77 35.50 L689.19 35.49 L689.61 35.49 L690.02 35.48 L690.44 35.48 L690.86 35.47 L691.28 35.46 L691.69 35.46 L692.11 35.45 L692.53 35.45 L692.95 35.44 L693.37 35.44 L693.78 35.43 L694.20 35.43 L694.62 35.42 L695.04 35.41 L695.45 35.41 L695.87 35.40 L696.29 35.40 L696.71 35.39 L697.12 35.39 L697.54 35.38 L697.96 35.38 L698.38 35.37 L698.79 35.37 L699.21 35.36 L699.63 35.36 L700.05 35.35 L700.47 35.35 L700.88 35.34 L701.30 35.34 L701.72 35.33 L702.14 35.33 L702.55 35.32 L702.97 35.32 L703.39 35.31 L703.81 35.31 L704.22 35.30 L704.64 35.30 L705.06 35.29 L705.48 35.29 L705.90 35.28 L706.31 35.28 L706.73 35.27 L707.15 35.27 L707.57 35.26 L707.98 35.26 L708.40 35.25 L708.82 35.25 L709.24 35.25 L709.65 35.24 L710.07 35.24 L710.49 35.23 L710.91 35.23 L711.32 35.22 L711.74 35.22 L712.16 35.21 L712.58 35.21 L713.00 35.21 L713.41 35.20 L713.83 35.20 L714.25 35.19 L714.67 35.19 L715.08 35.18 L715.50 35.18 L715.92 35.18 L716.34 35.17 L716.75 35.17 L717.17 35.16 L717.59 35.16 L718.01 35.16 L718.42 35.15 L718.84 35.15 L719.26 35.14 L719.68 35.14 L720.10 35.14 L720.51 35.13 L720.93 35.13 L721.35 35.12 L721.77 35.12 L722.18 35.12 L722.60 35.11 L723.02 35.11 L723.44 35.11 L723.85 35.10 L724.27 35.10 L724.69 35.09 L725.11 35.09 L725.53 35.09 L725.94 35.08 L726.36 35.08 L726.78 35.08 L727.20 35.07 L727.61 35.07 L728.03 35.07 L728.45 35.06 L728.87 35.06 L729.28 35.06 L729.70 35.05 L730.12 35.05 L730.54 35.05 L730.95 35.04 L731.37 35.04 L731.79 35.04 L732.21 35.03 L732.63 35.03 L733.04 35.03 L733.46 35.02 L733.88 35.02 L734.30 35.02 L734.71 35.01 L735.13 35.01 L735.55 35.01 L735.97 35.01 L736.38 35.00 L736.80 35.00 L737.22 35.00 L737.64 34.99 L738.06 34.99 L738.47 34.99 L738.89 34.99 L739.31 34.98 L739.73 34.98 L740.14 34.98 L740.56 34.97 L740.98 34.97 L741.40 34.97 L741.81 34.97 L742.23 34.96 L742.65 34.96 L743.07 34.96 L743.48 34.96 L743.90 34.95 L744.32 34.95 L744.74 34.95 L745.16 34.95 L745.57 34.94 L745.99 34.94 L746.41 34.94 L746.83 34.94 L747.24 34.93 L747.66 34.93 L748.08 34.93 L748.50 34.93 L748.91 34.93 L749.33 34.92 L749.75 34.92 L750.17 34.92 L750.58 34.92 L751.00 34.91 L751.42 34.91 L751.84 34.91 L752.26 34.91 L752.67 34.91 L753.09 34.90 L753.51 34.90 L753.93 34.90 L754.34 34.90 L754.76 34.90 L755.18 34.89 L755.60 34.89 L756.01 34.89 L756.43 34.89 L756.85 34.89 L757.27 34.88 L757.69 34.88 L758.10 34.88 L758.52 34.88 L758.94 34.88 L759.36 34.88 L759.77 34.87 L760.19 34.87 L760.61 34.87 L761.03 34.87 L761.44 34.87 L761.86 34.87 L762.28 34.86 L762.70 34.86 L763.11 34.86 L763.53 34.86 L763.95 34.86 L764.37 34.86 L764.79 34.85 L765.20 34.85 L765.62 34.85 L766.04 34.85 L766.46 34.85 L766.87 34.85 L767.29 34.85 L767.71 34.84 L768.13 34.84 L768.54 34.84 L768.96 34.84 L769.38 34.84 L769.80 34.84 L770.21 34.84 L770.63 34.83 L771.05 34.83 L771.47 34.83 L771.89 34.83 L772.30 34.83 L772.72 34.83 L773.14 34.83 L773.56 34.83 L773.97 34.83 L774.39 34.82 L774.81 34.82 L775.23 34.82 L775.64 34.82 L776.06 34.82 L776.48 34.82 L776.90 34.82 L777.32 34.82 L777.73 34.82 L778.15 34.81 L778.57 34.81 L778.99 34.81 L779.40 34.81 L779.82 34.81 L780.24 34.81 L780.66 34.81 L781.07 34.81 L781.49 34.81 L781.91 34.81 L782.33 34.80 L782.74 34.80 L783.16 34.80 L783.58 34.80 L784.00 34.80 L784.42 34.80 L784.83 34.80 L785.25 34.80 L785.67 34.80 L786.09 34.80 L786.50 34.80 L786.92 34.80 L787.34 34.79 L787.76 34.79 L788.17 34.79 L788.59 34.79 L789.01 34.79 L789.43 34.79 L789.85 34.79 L790.26 34.79 L790.68 34.79 L791.10 34.79 L791.52 34.79 L791.93 34.79 L792.35 34.79 L792.77 34.79 L793.19 34.79 L793.60 34.79 L794.02 34.78 L794.44 34.78 L794.86 34.78 L795.27 34.78 L795.69 34.78 L796.11 34.78 L796.53 34.78 L796.95 34.78 L797.36 34.78 L797.78 34.78 L798.20 34.78 L798.62 34.78 L799.03 34.78 L799.45 34.78 L799.87 34.78 L800.29 34.78 L800.70 34.78 L801.12 34.78 L801.54 34.78 L801.96 34.78 L802.37 34.77 L802.79 34.77 L803.21 34.77 L803.63 34.77 L804.05 34.77 L804.46 34.77 L804.88 34.77 L805.30 34.77 L805.72 34.77 L806.13 34.77 L806.55 34.77 L806.97 34.77 L807.39 34.77 L807.80 34.77 L808.22 34.77 L808.64 34.77 L809.06 34.77 L809.48 34.77 L809.89 34.77 L810.31 34.77 L810.73 34.77 L811.15 34.77 L811.56 34.77 L811.98 34.77 L812.40 34.77 L812.82 34.77 L813.23 34.77 L813.65 34.77 L814.07 34.77 L814.49 34.77 L814.90 34.77 L815.32 34.77 L815.74 34.77" stroke="#000" stroke-width="3.8" stroke-dasharray="1.8 8.7 8.4 8.64"/>
<path d="M146.15 34.70 L817.49 34.70" stroke="#000" stroke-width="3.85"/>
</g>
<path d="M147.90 541.05 V533.15 M147.90 11.65 V19.55 M189.64 541.05 V536.95 M189.64 11.65 V15.75 M231.38 541.05 V536.95 M231.38 11.65 V15.75 M273.12 541.05 V536.95 M273.12 11.65 V15.75 M314.86 541.05 V533.15 M314.86 11.65 V19.55 M356.60 541.05 V536.95 M356.60 11.65 V15.75 M398.34 541.05 V536.95 M398.34 11.65 V15.75 M440.08 541.05 V536.95 M440.08 11.65 V15.75 M481.82 541.05 V533.15 M481.82 11.65 V19.55 M523.56 541.05 V536.95 M523.56 11.65 V15.75 M565.30 541.05 V536.95 M565.30 11.65 V15.75 M607.04 541.05 V536.95 M607.04 11.65 V15.75 M648.78 541.05 V533.15 M648.78 11.65 V19.55 M690.52 541.05 V536.95 M690.52 11.65 V15.75 M732.26 541.05 V536.95 M732.26 11.65 V15.75 M774.00 541.05 V536.95 M774.00 11.65 V15.75 M815.74 541.05 V533.15 M815.74 11.65 V19.55 M128.30 518.30 H136.20 M835.40 518.30 H827.50 M128.30 494.12 H132.40 M835.40 494.12 H831.30 M128.30 469.94 H132.40 M835.40 469.94 H831.30 M128.30 445.76 H132.40 M835.40 445.76 H831.30 M128.30 421.58 H136.20 M835.40 421.58 H827.50 M128.30 397.40 H132.40 M835.40 397.40 H831.30 M128.30 373.22 H132.40 M835.40 373.22 H831.30 M128.30 349.04 H132.40 M835.40 349.04 H831.30 M128.30 324.86 H136.20 M835.40 324.86 H827.50 M128.30 300.68 H132.40 M835.40 300.68 H831.30 M128.30 276.50 H132.40 M835.40 276.50 H831.30 M128.30 252.32 H132.40 M835.40 252.32 H831.30 M128.30 228.14 H136.20 M835.40 228.14 H827.50 M128.30 203.96 H132.40 M835.40 203.96 H831.30 M128.30 179.78 H132.40 M835.40 179.78 H831.30 M128.30 155.60 H132.40 M835.40 155.60 H831.30 M128.30 131.42 H136.20 M835.40 131.42 H827.50 M128.30 107.24 H132.40 M835.40 107.24 H831.30 M128.30 83.06 H132.40 M835.40 83.06 H831.30 M128.30 58.88 H132.40 M835.40 58.88 H831.30 M128.30 34.70 H136.20 M835.40 34.70 H827.50" stroke="#000" stroke-width="3.60" fill="none"/>
<rect x="127.05" y="10.40" width="709.60" height="531.90" fill="none" stroke="#000" stroke-width="3.50"/>
<g font-family="'Liberation Serif', serif" font-size="35.6" fill="#000" opacity="0.999">
<text x="147.50" y="574.7" text-anchor="middle">0</text>
<text x="314.46" y="574.7" text-anchor="middle">2</text>
<text x="481.42" y="574.7" text-anchor="middle">4</text>
<text x="648.38" y="574.7" text-anchor="middle">6</text>
<text x="815.34" y="574.7" text-anchor="middle">8</text>
<text x="120.4" y="527.70" text-anchor="end">0</text>
<text x="120.4" y="430.98" text-anchor="end">2</text>
<text x="120.4" y="334.26" text-anchor="end">4</text>
<text x="120.4" y="237.54" text-anchor="end">6</text>
<text x="120.4" y="140.82" text-anchor="end">8</text>
<text transform="matrix(0.2528 0 0 0.3476 88.78 43.35)" font-size="100">1</text>
<text transform="matrix(0.3586 0 0 0.3453 102.43 43.26)" font-size="100">0</text>
</g>
<path d="M467.0 616.5L466.7 616.9L466.4 617.3L466.1 617.7L465.8 618.1L465.6 618.5L465.3 619.0L465.0 619.4L464.8 619.9L464.5 620.4L464.3 621.0L464.1 621.6L463.9 622.2L463.7 622.8L463.5 623.3L463.4 623.9L463.2 624.4L463.1 625.0L463.0 625.5L462.9 625.9L462.9 626.4L462.8 626.9L462.8 627.4L462.8 627.9L462.8 628.3L462.9 628.8L462.9 629.3L463.0 629.8L463.1 630.3L463.2 630.8L463.4 631.2L463.7 631.7L463.9 632.1L464.3 632.5L464.6 632.8L465.0 633.1L465.5 633.3L465.9 633.5L466.4 633.7L466.9 633.8L467.4 633.8L467.9 633.8L468.4 633.7L468.8 633.5L469.3 633.4L469.7 633.2L470.1 632.9L470.5 632.7L470.9 632.4L471.2 632.1L471.6 631.7L471.8 631.4L472.1 631.0L472.4 630.6L472.6 630.2L472.8 629.8L473.0 629.4L473.2 629.0L473.4 628.6L473.5 628.2L473.7 627.7L473.8 627.3L473.9 626.9L474.0 626.5L474.2 626.0L474.3 625.6L474.4 625.2L474.5 624.7L474.6 624.3L474.7 623.8L474.8 623.4L474.8 623.0L474.9 622.6L474.9 622.1L474.6 621.8L474.1 621.7L473.7 621.8L473.5 622.2L473.4 622.7L473.3 623.1L473.2 623.5L473.1 623.9L473.0 624.4L472.9 624.8L472.8 625.2L472.6 625.6L472.5 626.0L472.4 626.4L472.2 626.8L472.1 627.2L471.9 627.6L471.8 627.9L471.6 628.3L471.4 628.6L471.2 628.9L471.0 629.2L470.7 629.4L470.5 629.7L470.2 629.9L470.0 630.1L469.7 630.3L469.5 630.4L469.2 630.6L469.0 630.7L468.7 630.8L468.4 630.9L468.1 631.0L467.8 631.0L467.6 631.0L467.4 631.0L467.3 631.0L467.1 630.9L466.9 630.9L466.7 630.8L466.6 630.7L466.4 630.5L466.2 630.4L466.1 630.3L465.9 630.1L465.7 629.9L465.6 629.7L465.4 629.4L465.2 629.1L465.0 628.8L464.9 628.4L464.8 628.1L464.7 627.7L464.7 627.3L464.6 626.9L464.6 626.5L464.6 626.1L464.7 625.7L464.7 625.2L464.8 624.8L464.9 624.3L465.0 623.7L465.1 623.2L465.3 622.6L465.5 622.1L465.7 621.5L465.9 621.0L466.0 620.5L466.2 620.0L466.4 619.6L466.6 619.2L466.9 618.8L467.1 618.3L467.4 617.9L467.6 617.5L467.8 617.1L467.9 616.8L467.8 616.5L467.5 616.3L467.2 616.3ZM473.5 622.2L473.3 622.8L473.2 623.4L473.0 624.0L472.9 624.7L472.7 625.3L472.6 625.8L472.5 626.4L472.4 626.9L472.3 627.3L472.3 627.7L472.2 628.0L472.2 628.3L472.2 628.7L472.2 629.0L472.2 629.3L472.3 629.6L472.3 630.0L472.4 630.4L472.5 630.7L472.7 631.1L472.8 631.5L473.0 631.9L473.2 632.2L473.5 632.5L473.8 632.8L474.1 633.1L474.4 633.3L474.8 633.6L475.2 633.7L475.6 633.9L476.1 634.0L476.6 634.0L477.1 633.9L477.6 633.8L478.0 633.7L478.5 633.5L478.9 633.2L479.4 633.0L479.8 632.7L480.2 632.3L480.6 631.9L480.9 631.5L481.2 631.1L481.6 630.6L481.9 630.1L482.1 629.6L482.4 629.2L482.7 628.7L482.9 628.2L483.1 627.8L483.3 627.3L483.5 626.8L483.7 626.3L483.9 625.8L484.1 625.4L484.3 624.9L484.4 624.4L484.6 623.9L484.7 623.4L484.9 623.0L485.0 622.5L485.1 622.0L485.2 621.5L485.3 621.1L485.4 620.7L485.4 620.3L485.4 619.9L485.4 619.5L485.4 619.2L485.4 618.8L485.3 618.5L485.2 618.2L485.1 617.9L484.9 617.6L484.7 617.3L484.5 617.1L484.3 617.0L484.2 616.9L484.2 616.9L484.1 616.8L483.5 616.5L482.7 616.6L482.2 617.2L482.1 617.9L482.5 618.6L482.6 618.7L482.8 618.8L482.9 618.9L483.0 619.0L483.0 619.0L482.9 619.0L482.9 618.9L483.0 619.0L483.0 619.1L483.1 619.3L483.1 619.5L483.2 619.7L483.3 620.0L483.3 620.3L483.3 620.6L483.3 620.9L483.3 621.2L483.2 621.6L483.2 622.1L483.1 622.5L483.0 623.0L482.8 623.4L482.7 623.9L482.5 624.3L482.4 624.7L482.2 625.2L482.0 625.6L481.8 626.1L481.6 626.5L481.4 626.9L481.2 627.3L480.9 627.7L480.7 628.1L480.4 628.5L480.1 628.9L479.8 629.3L479.5 629.7L479.2 630.0L478.9 630.3L478.6 630.5L478.3 630.7L478.1 630.8L477.8 630.9L477.5 631.0L477.2 631.1L476.9 631.2L476.7 631.2L476.6 631.2L476.4 631.2L476.3 631.2L476.2 631.1L476.0 631.1L475.8 631.0L475.7 630.9L475.5 630.8L475.3 630.7L475.2 630.6L475.0 630.4L474.8 630.3L474.7 630.1L474.5 629.8L474.4 629.6L474.2 629.4L474.1 629.2L474.0 628.9L474.0 628.7L473.9 628.6L473.9 628.4L473.9 628.1L473.9 627.8L473.9 627.5L474.0 627.1L474.1 626.7L474.1 626.2L474.3 625.6L474.4 625.0L474.5 624.4L474.7 623.8L474.8 623.2L474.9 622.6L474.9 622.1L474.6 621.8L474.1 621.7L473.7 621.8ZM484.5 617.7L484.4 617.1L484.0 616.7L483.5 616.4L482.9 616.4L482.4 616.7L482.0 617.1L481.9 617.7L482.0 618.3L482.4 618.7L482.9 619.0L483.5 619.0L484.0 618.7L484.4 618.3Z" fill="#000"/>
<path d="M494.3 609.8L494.1 610.7L493.9 611.5L493.7 612.4L493.5 613.3L493.2 614.1L493.0 615.0L492.8 615.8L492.6 616.7L492.4 617.6L492.1 618.4L491.9 619.3L491.7 620.1L491.5 621.0L491.2 621.8L491.0 622.6L490.8 623.4L490.6 624.1L490.5 624.8L490.3 625.5L490.1 626.2L489.9 626.9L489.7 627.5L489.6 628.1L489.5 628.7L489.5 629.2L489.4 629.6L489.4 630.1L489.4 630.5L489.4 630.9L489.5 631.3L489.6 631.6L489.8 632.0L490.0 632.3L490.3 632.7L490.5 633.0L490.9 633.3L491.2 633.5L491.6 633.7L492.0 633.9L492.5 633.9L493.0 633.9L493.4 633.8L493.8 633.6L494.2 633.4L494.6 633.2L495.0 632.9L495.3 632.7L495.7 632.4L496.0 632.0L496.4 631.6L496.7 631.2L497.0 630.8L497.3 630.4L497.6 630.0L497.8 629.6L498.1 629.3L498.3 629.0L498.5 628.7L498.6 628.5L498.8 628.3L498.9 628.1L499.0 627.9L499.2 627.7L499.3 627.5L499.4 627.2L499.3 626.9L499.1 626.7L498.8 626.7L498.5 626.9L498.3 627.1L498.2 627.3L498.0 627.5L497.9 627.6L497.7 627.8L497.6 628.0L497.4 628.3L497.1 628.5L496.9 628.8L496.6 629.2L496.3 629.6L496.0 630.0L495.6 630.3L495.3 630.7L495.0 631.0L494.7 631.2L494.4 631.4L494.1 631.6L493.8 631.8L493.5 631.9L493.2 632.0L493.0 632.1L492.8 632.1L492.7 632.1L492.6 632.0L492.5 631.9L492.4 631.8L492.3 631.7L492.2 631.5L492.1 631.4L492.1 631.2L492.0 631.0L492.0 630.9L491.9 630.7L491.9 630.6L491.9 630.4L491.9 630.2L492.0 629.9L492.0 629.5L492.1 629.1L492.2 628.6L492.3 628.1L492.4 627.5L492.6 626.9L492.8 626.2L493.0 625.5L493.2 624.8L493.4 624.0L493.5 623.3L493.7 622.5L494.0 621.6L494.2 620.8L494.4 619.9L494.6 619.0L494.8 618.2L495.0 617.3L495.2 616.4L495.4 615.6L495.6 614.7L495.8 613.9L496.0 613.0L496.3 612.1L496.5 611.3L496.7 610.4L496.6 609.6L496.1 609.1L495.4 608.9L494.7 609.2ZM488.1 617.9L489.5 617.9L490.9 617.9L492.3 617.9L493.7 617.9L495.1 617.9L496.5 617.9L497.9 617.9L499.3 617.9L499.6 617.8L499.8 617.6L499.8 617.2L499.6 617.0L499.3 616.9L497.9 616.9L496.5 616.9L495.1 616.9L493.7 616.9L492.3 616.9L490.9 616.9L489.5 616.9L488.1 616.9L487.8 617.0L487.6 617.2L487.6 617.6L487.8 617.8Z" fill="#000"/>
<path d="M24.8 377.4L25.3 377.9L25.8 378.4L26.3 378.9L26.8 379.3L27.3 379.8L27.8 380.3L28.5 380.8L29.1 381.2L29.8 381.7L30.5 382.2L31.3 382.6L32.1 383.1L33.0 383.5L33.9 383.9L34.8 384.3L35.7 384.6L36.7 384.9L37.6 385.2L38.7 385.4L39.7 385.7L40.8 385.8L41.9 386.0L42.9 386.1L44.0 386.1L45.1 386.1L46.1 386.0L47.2 385.8L48.3 385.7L49.3 385.4L50.4 385.2L51.3 384.9L52.3 384.6L53.2 384.3L54.1 383.9L55.0 383.5L55.9 383.1L56.7 382.6L57.5 382.2L58.2 381.7L58.9 381.2L59.5 380.8L60.1 380.3L60.7 379.8L61.2 379.3L61.7 378.9L62.1 378.4L62.6 377.9L63.1 377.4L63.2 377.2L63.2 376.9L63.0 376.7L62.8 376.7L62.5 376.8L62.0 377.2L61.4 377.6L60.9 378.0L60.4 378.4L59.9 378.8L59.3 379.2L58.7 379.6L58.1 380.0L57.4 380.3L56.7 380.7L55.9 381.1L55.1 381.4L54.3 381.8L53.4 382.1L52.6 382.3L51.7 382.6L50.8 382.8L49.9 383.0L48.9 383.2L47.9 383.4L46.9 383.5L45.9 383.6L45.0 383.7L44.0 383.7L43.0 383.7L42.1 383.6L41.1 383.5L40.1 383.4L39.1 383.2L38.1 383.0L37.2 382.8L36.3 382.6L35.4 382.3L34.6 382.1L33.7 381.8L32.9 381.4L32.1 381.1L31.3 380.7L30.6 380.3L29.9 380.0L29.2 379.6L28.7 379.2L28.1 378.8L27.6 378.4L27.0 378.0L26.5 377.6L26.0 377.2L25.4 376.8L25.1 376.7L24.9 376.7L24.7 376.9L24.7 377.2Z" fill="#000"/>
<path d="M37.4 371.4L37.2 370.6L36.6 369.9L35.8 369.5L35.0 369.5L34.2 369.9L33.6 370.6L33.4 371.4L33.6 372.2L34.2 372.9L35.0 373.3L35.8 373.3L36.6 372.9L37.2 372.2ZM35.0 371.8L34.7 371.8L34.3 371.8L34.0 371.8L33.7 371.8L33.4 371.8L33.1 371.8L32.9 371.7L32.6 371.6L32.3 371.5L32.0 371.3L31.6 371.0L31.3 370.8L31.0 370.5L30.7 370.2L30.4 369.8L30.2 369.5L30.0 369.1L29.8 368.7L29.6 368.3L29.4 367.8L29.3 367.4L29.2 366.9L29.2 366.5L29.2 366.0L29.3 365.6L29.5 365.1L29.6 364.5L29.9 364.0L30.1 363.6L30.4 363.1L30.6 362.8L30.9 362.5L31.2 362.3L31.5 362.1L31.9 361.9L32.3 361.8L32.8 361.6L33.2 361.5L33.6 361.5L33.9 361.4L34.2 361.4L34.6 361.5L35.0 361.5L35.4 361.6L35.8 361.8L36.3 361.9L36.7 362.1L37.2 362.3L37.7 362.5L38.1 362.8L38.7 363.1L39.2 363.4L39.7 363.8L40.3 364.2L40.9 364.6L41.4 365.0L42.0 365.5L42.5 365.9L43.1 366.4L43.7 366.9L44.3 367.3L44.8 367.8L45.4 368.3L45.9 368.7L46.4 369.2L46.9 369.6L47.4 370.0L47.9 370.4L48.3 370.8L48.8 371.2L49.2 371.5L49.6 371.8L50.0 372.1L50.4 372.4L50.7 372.6L51.0 372.9L51.3 373.1L51.6 373.3L51.9 373.5L52.2 373.7L52.6 373.8L52.9 373.7L53.2 373.4L53.2 373.0L53.0 372.7L52.7 372.4L52.5 372.2L52.2 371.9L51.9 371.7L51.7 371.5L51.4 371.2L51.1 370.9L50.8 370.6L50.4 370.2L50.0 369.8L49.7 369.4L49.3 369.0L48.8 368.5L48.4 368.0L47.9 367.5L47.5 367.1L47.0 366.6L46.5 366.0L46.0 365.5L45.5 364.9L45.0 364.4L44.5 363.8L43.9 363.3L43.4 362.8L42.8 362.3L42.3 361.8L41.8 361.3L41.2 360.8L40.6 360.3L40.0 359.9L39.4 359.4L38.8 359.1L38.2 358.8L37.6 358.5L36.9 358.3L36.3 358.1L35.6 358.0L34.9 357.9L34.2 357.9L33.5 358.0L32.8 358.1L32.1 358.3L31.5 358.6L30.9 359.0L30.3 359.4L29.8 359.8L29.3 360.3L28.9 360.9L28.5 361.5L28.3 362.1L28.1 362.8L27.9 363.4L27.8 364.1L27.8 364.8L27.7 365.4L27.8 366.0L27.8 366.6L27.9 367.1L28.1 367.7L28.3 368.2L28.5 368.7L28.7 369.2L29.0 369.7L29.2 370.1L29.5 370.5L29.9 370.9L30.3 371.2L30.6 371.6L31.0 371.9L31.4 372.1L31.8 372.4L32.2 372.6L32.6 372.7L33.0 372.8L33.4 372.8L33.7 372.8L34.1 372.8L34.4 372.8L34.7 372.8L35.0 372.8L35.3 372.7L35.5 372.5L35.5 372.2L35.3 371.9ZM54.1 373.8L54.0 372.1L54.0 370.5L54.0 368.8L54.0 367.1L54.0 365.4L54.0 363.7L54.0 362.1L54.0 360.4L51.5 360.4L51.4 362.1L51.4 363.7L51.4 365.4L51.4 367.1L51.4 368.8L51.4 370.5L51.4 372.1L51.4 373.8ZM53.7 360.0L52.9 359.8L52.2 359.6L51.4 359.4L50.6 359.2L49.8 359.0L49.1 358.9L48.3 358.7L47.5 358.5L47.2 358.5L47.0 358.7L47.0 358.9L47.1 359.2L47.3 359.3L48.1 359.5L48.8 359.7L49.6 360.0L50.4 360.2L51.2 360.4L51.9 360.6L52.7 360.8L53.5 361.0L53.8 361.0L54.0 360.8L54.1 360.5L54.0 360.2Z" fill="#000"/>
<path d="M63.3 353.5L58.5 351.7L53.8 350.0L49.0 348.2L44.3 346.5L39.5 344.7L34.8 343.0L30.0 341.2L25.3 339.5L24.8 339.5L24.4 339.7L24.3 340.2L24.4 340.6L24.7 340.9L29.5 342.7L34.2 344.4L39.0 346.2L43.7 347.9L48.5 349.7L53.2 351.4L58.0 353.2L62.7 354.9L63.2 354.9L63.6 354.7L63.7 354.2L63.6 353.8Z" fill="#000"/>
<path d="M37.0 333.6L37.4 333.9L37.8 334.2L38.2 334.5L38.6 334.8L39.0 335.0L39.5 335.3L39.9 335.6L40.4 335.8L40.9 336.1L41.5 336.3L42.1 336.5L42.7 336.7L43.3 336.9L43.8 337.1L44.4 337.2L44.9 337.4L45.5 337.5L46.0 337.6L46.4 337.7L46.9 337.7L47.4 337.8L47.9 337.8L48.4 337.8L48.8 337.8L49.3 337.7L49.8 337.7L50.3 337.6L50.8 337.5L51.3 337.4L51.7 337.2L52.2 336.9L52.6 336.7L53.0 336.3L53.3 336.0L53.6 335.6L53.8 335.1L54.0 334.7L54.2 334.2L54.3 333.7L54.3 333.2L54.3 332.7L54.2 332.2L54.0 331.8L53.9 331.3L53.7 330.9L53.4 330.5L53.2 330.1L52.9 329.7L52.6 329.4L52.2 329.0L51.9 328.8L51.5 328.5L51.1 328.2L50.7 328.0L50.3 327.8L49.9 327.6L49.5 327.4L49.1 327.2L48.7 327.1L48.2 326.9L47.8 326.8L47.4 326.7L47.0 326.6L46.5 326.4L46.1 326.3L45.7 326.2L45.2 326.1L44.8 326.0L44.3 325.9L43.9 325.8L43.5 325.8L43.1 325.7L42.6 325.7L42.3 326.0L42.2 326.5L42.3 326.9L42.7 327.1L43.2 327.2L43.6 327.3L44.0 327.4L44.4 327.5L44.9 327.6L45.3 327.7L45.7 327.8L46.1 328.0L46.5 328.1L46.9 328.2L47.3 328.4L47.7 328.5L48.1 328.7L48.4 328.8L48.8 329.0L49.1 329.2L49.4 329.4L49.7 329.6L49.9 329.9L50.2 330.1L50.4 330.4L50.6 330.6L50.8 330.9L50.9 331.1L51.1 331.4L51.2 331.6L51.3 331.9L51.4 332.2L51.5 332.5L51.5 332.8L51.5 333.0L51.5 333.2L51.5 333.3L51.4 333.5L51.4 333.7L51.3 333.9L51.2 334.0L51.0 334.2L50.9 334.4L50.8 334.5L50.6 334.7L50.4 334.9L50.2 335.0L49.9 335.2L49.6 335.4L49.3 335.6L48.9 335.7L48.6 335.8L48.2 335.9L47.8 335.9L47.4 336.0L47.0 336.0L46.6 336.0L46.2 335.9L45.7 335.9L45.3 335.8L44.8 335.7L44.2 335.6L43.7 335.5L43.1 335.3L42.6 335.1L42.0 334.9L41.5 334.7L41.0 334.6L40.5 334.4L40.1 334.2L39.7 334.0L39.3 333.7L38.8 333.5L38.4 333.2L38.0 333.0L37.6 332.8L37.3 332.7L37.0 332.8L36.8 333.1L36.8 333.4ZM42.7 327.1L43.3 327.3L43.9 327.4L44.5 327.6L45.2 327.7L45.8 327.9L46.3 328.0L46.9 328.1L47.4 328.2L47.8 328.3L48.2 328.3L48.5 328.4L48.8 328.4L49.2 328.4L49.5 328.4L49.8 328.4L50.1 328.3L50.5 328.3L50.9 328.2L51.2 328.1L51.6 327.9L52.0 327.8L52.4 327.6L52.7 327.4L53.0 327.1L53.3 326.8L53.6 326.5L53.8 326.2L54.1 325.8L54.2 325.4L54.4 325.0L54.5 324.5L54.5 324.0L54.4 323.5L54.3 323.0L54.2 322.6L54.0 322.1L53.7 321.7L53.5 321.2L53.2 320.8L52.8 320.4L52.4 320.0L52.0 319.7L51.6 319.4L51.1 319.0L50.6 318.7L50.1 318.5L49.7 318.2L49.2 317.9L48.7 317.7L48.3 317.5L47.8 317.3L47.3 317.1L46.8 316.9L46.3 316.7L45.9 316.5L45.4 316.3L44.9 316.2L44.4 316.0L43.9 315.9L43.5 315.7L43.0 315.6L42.5 315.5L42.0 315.4L41.6 315.3L41.2 315.2L40.8 315.2L40.4 315.2L40.0 315.2L39.7 315.2L39.3 315.2L39.0 315.3L38.7 315.4L38.4 315.5L38.1 315.7L37.8 315.9L37.6 316.1L37.5 316.3L37.4 316.4L37.4 316.4L37.3 316.5L37.0 317.1L37.1 317.9L37.7 318.4L38.4 318.5L39.1 318.1L39.2 318.0L39.3 317.8L39.4 317.7L39.5 317.6L39.5 317.6L39.5 317.7L39.4 317.7L39.5 317.6L39.6 317.6L39.8 317.5L40.0 317.5L40.2 317.4L40.5 317.3L40.8 317.3L41.1 317.3L41.4 317.3L41.7 317.3L42.1 317.4L42.6 317.4L43.0 317.5L43.5 317.6L43.9 317.8L44.4 317.9L44.8 318.1L45.2 318.2L45.7 318.4L46.1 318.6L46.6 318.8L47.0 319.0L47.4 319.2L47.8 319.4L48.2 319.7L48.6 319.9L49.0 320.2L49.4 320.5L49.8 320.8L50.2 321.1L50.5 321.4L50.8 321.7L51.0 322.0L51.2 322.3L51.3 322.5L51.4 322.8L51.5 323.1L51.6 323.4L51.7 323.7L51.7 323.9L51.7 324.0L51.7 324.2L51.7 324.3L51.6 324.4L51.6 324.6L51.5 324.8L51.4 324.9L51.3 325.1L51.2 325.3L51.1 325.4L50.9 325.6L50.8 325.8L50.6 325.9L50.3 326.1L50.1 326.2L49.9 326.4L49.7 326.5L49.4 326.6L49.2 326.6L49.1 326.7L48.9 326.7L48.6 326.7L48.3 326.7L48.0 326.7L47.6 326.6L47.2 326.5L46.7 326.5L46.1 326.3L45.5 326.2L44.9 326.1L44.3 325.9L43.7 325.8L43.1 325.7L42.6 325.7L42.3 326.0L42.2 326.5L42.3 326.9ZM38.2 316.1L37.6 316.2L37.2 316.6L36.9 317.1L36.9 317.7L37.2 318.2L37.6 318.6L38.2 318.7L38.8 318.6L39.2 318.2L39.5 317.7L39.5 317.1L39.2 316.6L38.8 316.2Z" fill="#000"/>
<path d="M24.8 310.9L25.3 310.4L25.8 309.9L26.3 309.4L26.8 309.0L27.3 308.5L27.8 308.0L28.5 307.5L29.1 307.1L29.8 306.6L30.5 306.1L31.3 305.7L32.1 305.2L33.0 304.8L33.9 304.4L34.8 304.0L35.7 303.7L36.7 303.4L37.6 303.1L38.7 302.9L39.7 302.6L40.8 302.5L41.9 302.3L42.9 302.2L44.0 302.2L45.1 302.2L46.1 302.3L47.2 302.5L48.3 302.6L49.3 302.9L50.4 303.1L51.3 303.4L52.3 303.7L53.2 304.0L54.1 304.4L55.0 304.8L55.9 305.2L56.7 305.7L57.5 306.1L58.2 306.6L58.9 307.1L59.5 307.5L60.1 308.0L60.7 308.5L61.2 309.0L61.7 309.4L62.1 309.9L62.6 310.4L63.1 310.9L63.2 311.1L63.2 311.4L63.0 311.6L62.8 311.6L62.5 311.5L62.0 311.1L61.4 310.7L60.9 310.3L60.4 309.9L59.9 309.5L59.3 309.1L58.7 308.7L58.1 308.3L57.4 308.0L56.7 307.6L55.9 307.2L55.1 306.9L54.3 306.5L53.4 306.2L52.6 306.0L51.7 305.7L50.8 305.5L49.9 305.3L48.9 305.1L47.9 304.9L46.9 304.8L45.9 304.7L45.0 304.6L44.0 304.6L43.0 304.6L42.1 304.7L41.1 304.8L40.1 304.9L39.1 305.1L38.1 305.3L37.2 305.5L36.3 305.7L35.4 306.0L34.6 306.2L33.7 306.5L32.9 306.9L32.1 307.2L31.3 307.6L30.6 308.0L29.9 308.3L29.2 308.7L28.7 309.1L28.1 309.5L27.6 309.9L27.0 310.3L26.5 310.7L26.0 311.1L25.4 311.5L25.1 311.6L24.9 311.6L24.7 311.4L24.7 311.1Z" fill="#000"/>
<path d="M20.7 284.9L23.6 286.2L26.4 287.5L29.3 288.9L32.2 290.2L35.1 291.5L37.9 292.8L40.8 294.2L43.7 295.5L44.1 295.5L44.6 295.3L44.7 294.9L44.7 294.4L44.3 294.1L41.4 292.8L38.6 291.5L35.7 290.1L32.8 288.8L29.9 287.5L27.1 286.2L24.2 284.8L21.3 283.5L20.9 283.5L20.4 283.7L20.3 284.1L20.3 284.6ZM44.3 295.5L47.2 294.2L50.0 292.9L52.9 291.6L55.7 290.3L58.6 289.0L61.4 287.7L64.3 286.4L67.1 285.1L67.5 284.8L67.5 284.3L67.4 283.9L66.9 283.7L66.5 283.7L63.6 285.0L60.8 286.3L57.9 287.6L55.1 288.9L52.2 290.2L49.4 291.5L46.5 292.8L43.7 294.1L43.3 294.4L43.3 294.9L43.4 295.3L43.9 295.5Z" fill="#000"/>
<path d="M28.3 269.9L31.3 270.6L34.3 271.3L37.2 272.1L40.2 272.8L43.2 273.5L46.2 274.3L49.1 275.0L52.1 275.8L52.9 272.6L49.9 271.9L46.9 271.2L44.0 270.4L41.0 269.7L38.0 269.0L35.0 268.2L32.1 267.5L29.1 266.7ZM28.7 272.8L28.7 271.1L28.7 269.4L28.7 267.6L28.7 265.9L28.7 264.2L28.7 262.4L28.7 260.7L28.7 259.0L28.6 258.7L28.4 258.5L28.0 258.5L27.8 258.7L27.7 259.0L27.7 260.7L27.7 262.4L27.7 264.2L27.7 265.9L27.7 267.6L27.7 269.4L27.7 271.1L27.7 272.8L27.8 273.1L28.0 273.3L28.4 273.3L28.6 273.1ZM52.3 269.5L52.3 270.6L52.3 271.7L52.3 272.8L52.3 273.9L52.3 275.0L52.3 276.1L52.3 277.2L52.3 278.3L52.4 278.7L52.8 279.0L53.2 279.0L53.6 278.7L53.7 278.3L53.7 277.2L53.7 276.1L53.7 275.0L53.7 273.9L53.7 272.8L53.7 271.7L53.7 270.6L53.7 269.5L53.6 269.1L53.2 268.8L52.8 268.8L52.4 269.1ZM28.8 259.7L28.9 259.4L29.0 259.0L29.1 258.6L29.2 258.3L29.3 257.9L29.4 257.6L29.5 257.4L29.7 257.1L29.9 256.9L30.1 256.7L30.3 256.4L30.5 256.3L30.8 256.1L31.0 256.0L31.2 255.9L31.4 255.8L31.7 255.7L32.0 255.6L32.3 255.6L32.5 255.5L32.8 255.5L33.1 255.5L33.3 255.5L33.5 255.5L33.7 255.6L34.0 255.7L34.3 255.8L34.6 255.9L34.9 256.1L35.2 256.3L35.5 256.5L35.8 256.7L36.1 256.9L36.5 257.2L36.8 257.5L37.1 257.8L37.4 258.1L37.7 258.5L38.0 258.8L38.3 259.2L38.6 259.6L38.9 260.0L39.2 260.5L39.4 260.9L39.7 261.4L39.9 261.9L40.1 262.4L40.3 263.0L40.4 263.7L40.5 264.4L40.5 265.3L40.5 266.1L40.5 267.0L40.6 267.9L40.6 268.8L40.6 269.6L40.7 270.0L41.0 270.2L41.4 270.2L41.7 269.9L41.8 269.6L41.8 268.7L41.8 267.9L41.8 267.0L41.8 266.1L41.8 265.2L41.8 264.4L41.8 263.6L41.7 262.8L41.7 262.1L41.5 261.4L41.4 260.8L41.3 260.2L41.1 259.6L40.9 259.0L40.7 258.5L40.5 258.0L40.2 257.4L39.9 256.9L39.6 256.4L39.3 256.0L38.9 255.5L38.6 255.1L38.2 254.7L37.8 254.3L37.4 254.0L36.9 253.6L36.5 253.3L36.0 253.1L35.5 252.9L35.0 252.7L34.4 252.5L33.9 252.5L33.3 252.4L32.8 252.5L32.3 252.6L31.8 252.7L31.3 252.9L30.9 253.1L30.5 253.4L30.2 253.6L29.8 253.9L29.5 254.3L29.2 254.6L29.0 255.0L28.8 255.4L28.6 255.7L28.5 256.1L28.3 256.5L28.2 256.9L28.1 257.3L28.0 257.7L28.0 258.0L27.9 258.4L27.9 258.8L27.9 259.1L27.8 259.5L27.8 259.8L28.0 260.0L28.3 260.1L28.6 260.0Z" fill="#000"/>
<path d="M23.5 257.8L22.8 258.4L22.0 259.0L21.3 259.6L20.6 260.3L19.9 260.9L19.1 261.5L18.4 262.1L17.7 262.7L17.5 263.0L17.5 263.4L17.8 263.8L18.1 263.8L18.5 263.7L19.2 263.1L20.0 262.5L20.7 261.9L21.4 261.2L22.1 260.6L22.9 260.0L23.6 259.4L24.3 258.8L24.5 258.5L24.5 258.1L24.2 257.7L23.9 257.7ZM17.7 263.7L18.4 264.4L19.1 265.0L19.8 265.7L20.6 266.4L21.3 267.1L22.0 267.7L22.7 268.4L23.5 269.1L23.8 269.2L24.2 269.2L24.5 268.9L24.5 268.5L24.3 268.1L23.6 267.4L22.9 266.8L22.2 266.1L21.4 265.4L20.7 264.7L20.0 264.1L19.3 263.4L18.5 262.7L18.2 262.6L17.8 262.6L17.5 262.9L17.5 263.3Z" fill="#000"/>
<path d="M27.5 249.1L27.3 248.3L26.9 247.7L26.2 247.4L25.5 247.4L24.9 247.7L24.5 248.3L24.3 249.1L24.5 249.8L24.9 250.4L25.5 250.7L26.2 250.7L26.9 250.4L27.3 249.8ZM25.6 249.3L25.4 249.2L25.2 249.3L25.0 249.3L24.8 249.3L24.6 249.3L24.4 249.3L24.3 249.2L24.1 249.2L23.9 249.0L23.7 248.9L23.5 248.7L23.3 248.5L23.1 248.3L22.9 248.1L22.7 247.9L22.6 247.7L22.4 247.4L22.3 247.1L22.2 246.8L22.1 246.5L22.1 246.2L22.0 245.8L22.0 245.5L22.0 245.2L22.1 244.9L22.2 244.6L22.3 244.2L22.5 243.9L22.6 243.6L22.8 243.3L23.0 243.1L23.1 242.9L23.3 242.8L23.5 242.7L23.8 242.5L24.0 242.5L24.3 242.4L24.5 242.3L24.8 242.3L25.0 242.3L25.1 242.3L25.3 242.3L25.5 242.4L25.8 242.4L26.1 242.5L26.3 242.6L26.6 242.8L26.9 242.9L27.2 243.0L27.5 243.2L27.8 243.4L28.2 243.6L28.5 243.9L28.9 244.2L29.3 244.5L29.6 244.8L30.0 245.0L30.3 245.3L30.7 245.7L31.1 246.0L31.5 246.3L31.8 246.7L32.2 247.0L32.5 247.3L32.9 247.6L33.2 247.9L33.5 248.2L33.8 248.5L34.1 248.7L34.4 249.0L34.7 249.2L35.0 249.5L35.2 249.7L35.5 249.9L35.7 250.0L35.9 250.2L36.1 250.3L36.3 250.5L36.5 250.6L36.7 250.8L37.0 250.9L37.3 250.8L37.5 250.5L37.5 250.2L37.3 249.9L37.1 249.7L37.0 249.5L36.8 249.3L36.6 249.2L36.5 249.0L36.3 248.8L36.1 248.6L35.9 248.4L35.7 248.1L35.4 247.8L35.2 247.5L34.9 247.2L34.7 246.9L34.4 246.5L34.1 246.2L33.8 245.8L33.5 245.5L33.2 245.1L32.9 244.7L32.6 244.3L32.2 243.9L31.9 243.5L31.5 243.1L31.2 242.7L30.8 242.4L30.5 242.0L30.2 241.6L29.8 241.3L29.4 240.9L29.0 240.6L28.6 240.3L28.2 240.0L27.8 239.8L27.4 239.6L26.9 239.4L26.5 239.3L26.0 239.2L25.6 239.2L25.1 239.2L24.6 239.2L24.1 239.3L23.7 239.5L23.3 239.7L22.9 240.0L22.5 240.3L22.1 240.6L21.8 241.0L21.5 241.4L21.3 241.9L21.1 242.4L21.0 242.9L20.9 243.4L20.8 243.8L20.8 244.3L20.8 244.8L20.8 245.2L20.9 245.6L20.9 246.1L21.0 246.5L21.2 246.8L21.3 247.2L21.5 247.6L21.6 247.9L21.8 248.2L22.0 248.5L22.3 248.8L22.5 249.0L22.8 249.3L23.0 249.5L23.3 249.7L23.5 249.8L23.8 250.0L24.0 250.1L24.3 250.1L24.6 250.2L24.8 250.2L25.0 250.2L25.2 250.1L25.4 250.1L25.6 250.1L25.8 250.1L26.0 249.8L26.0 249.6L25.9 249.3ZM38.1 250.8L38.1 249.6L38.1 248.4L38.1 247.2L38.1 246.0L38.1 244.8L38.1 243.6L38.1 242.4L38.1 241.2L36.0 241.2L36.0 242.4L36.0 243.6L36.0 244.8L36.0 246.0L36.0 247.2L36.0 248.4L36.0 249.6L36.0 250.8ZM37.7 240.9L37.2 240.8L36.7 240.6L36.2 240.5L35.7 240.3L35.2 240.2L34.7 240.1L34.2 239.9L33.7 239.8L33.5 239.8L33.3 240.0L33.3 240.2L33.4 240.4L33.5 240.6L34.0 240.7L34.5 240.9L35.0 241.0L35.5 241.2L36.0 241.3L36.5 241.5L37.0 241.6L37.5 241.7L37.8 241.7L38.0 241.6L38.0 241.3L37.9 241.0Z" fill="#000"/>
<path d="M24.8 224.4L25.3 224.9L25.8 225.4L26.3 225.9L26.8 226.3L27.3 226.8L27.8 227.3L28.5 227.8L29.1 228.2L29.8 228.7L30.5 229.2L31.3 229.6L32.1 230.1L33.0 230.5L33.9 230.9L34.8 231.3L35.7 231.6L36.7 231.9L37.6 232.2L38.7 232.4L39.7 232.7L40.8 232.8L41.9 233.0L42.9 233.1L44.0 233.1L45.1 233.1L46.1 233.0L47.2 232.8L48.3 232.7L49.3 232.4L50.4 232.2L51.3 231.9L52.3 231.6L53.2 231.3L54.1 230.9L55.0 230.5L55.9 230.1L56.7 229.6L57.5 229.2L58.2 228.7L58.9 228.2L59.5 227.8L60.1 227.3L60.7 226.8L61.2 226.3L61.7 225.9L62.1 225.4L62.6 224.9L63.1 224.4L63.2 224.2L63.2 223.9L63.0 223.7L62.8 223.7L62.5 223.8L62.0 224.2L61.4 224.6L60.9 225.0L60.4 225.4L59.9 225.8L59.3 226.2L58.7 226.6L58.1 227.0L57.4 227.3L56.7 227.7L55.9 228.1L55.1 228.4L54.3 228.8L53.4 229.1L52.6 229.3L51.7 229.6L50.8 229.8L49.9 230.0L48.9 230.2L47.9 230.4L46.9 230.5L45.9 230.6L45.0 230.7L44.0 230.7L43.0 230.7L42.1 230.6L41.1 230.5L40.1 230.4L39.1 230.2L38.1 230.0L37.2 229.8L36.3 229.6L35.4 229.3L34.6 229.1L33.7 228.8L32.9 228.4L32.1 228.1L31.3 227.7L30.6 227.3L29.9 227.0L29.2 226.6L28.7 226.2L28.1 225.8L27.6 225.4L27.0 225.0L26.5 224.6L26.0 224.2L25.4 223.8L25.1 223.7L24.9 223.7L24.7 223.9L24.7 224.2Z" fill="#000"/>
<path d="M30.5 215.4L31.4 215.6L32.2 215.8L33.1 216.0L34.0 216.2L34.8 216.5L35.7 216.7L36.5 216.9L37.4 217.1L38.3 217.3L39.1 217.6L40.0 217.8L40.8 218.0L41.7 218.2L42.5 218.5L43.3 218.7L44.1 218.9L44.8 219.1L45.5 219.2L46.2 219.4L46.9 219.6L47.6 219.8L48.2 220.0L48.8 220.1L49.4 220.2L49.9 220.2L50.3 220.3L50.8 220.3L51.2 220.3L51.6 220.3L52.0 220.2L52.3 220.1L52.7 219.9L53.0 219.7L53.4 219.4L53.7 219.2L54.0 218.8L54.2 218.5L54.4 218.1L54.6 217.7L54.6 217.2L54.6 216.7L54.5 216.3L54.3 215.9L54.1 215.5L53.9 215.1L53.6 214.7L53.4 214.4L53.1 214.0L52.7 213.7L52.3 213.3L51.9 213.0L51.5 212.7L51.1 212.4L50.7 212.1L50.3 211.9L50.0 211.6L49.7 211.4L49.4 211.2L49.2 211.1L49.0 210.9L48.8 210.8L48.6 210.7L48.4 210.5L48.2 210.4L47.9 210.3L47.6 210.4L47.4 210.6L47.4 210.9L47.6 211.2L47.8 211.4L48.0 211.5L48.2 211.7L48.3 211.8L48.5 212.0L48.7 212.1L49.0 212.3L49.2 212.6L49.5 212.8L49.9 213.1L50.3 213.4L50.7 213.7L51.0 214.1L51.4 214.4L51.7 214.7L51.9 215.0L52.1 215.3L52.3 215.6L52.5 215.9L52.6 216.2L52.7 216.5L52.8 216.7L52.8 216.9L52.8 217.0L52.7 217.1L52.6 217.2L52.5 217.3L52.4 217.4L52.2 217.5L52.1 217.6L51.9 217.6L51.7 217.7L51.6 217.7L51.4 217.8L51.3 217.8L51.1 217.8L50.9 217.8L50.6 217.7L50.2 217.7L49.8 217.6L49.3 217.5L48.8 217.4L48.2 217.3L47.6 217.1L46.9 216.9L46.2 216.7L45.5 216.5L44.7 216.3L44.0 216.2L43.2 216.0L42.3 215.7L41.5 215.5L40.6 215.3L39.7 215.1L38.9 214.9L38.0 214.7L37.1 214.5L36.3 214.3L35.4 214.1L34.6 213.9L33.7 213.7L32.8 213.4L32.0 213.2L31.1 213.0L30.3 213.1L29.8 213.6L29.6 214.3L29.9 215.0ZM38.6 221.6L38.6 220.2L38.6 218.8L38.6 217.4L38.6 216.0L38.6 214.6L38.6 213.2L38.6 211.8L38.6 210.4L38.5 210.1L38.3 209.9L37.9 209.9L37.7 210.1L37.6 210.4L37.6 211.8L37.6 213.2L37.6 214.6L37.6 216.0L37.6 217.4L37.6 218.8L37.6 220.2L37.6 221.6L37.7 221.9L37.9 222.1L38.3 222.1L38.5 221.9Z" fill="#000"/>
<path d="M24.8 206.4L25.3 205.9L25.8 205.4L26.3 204.9L26.8 204.5L27.3 204.0L27.8 203.5L28.5 203.0L29.1 202.6L29.8 202.1L30.5 201.6L31.3 201.2L32.1 200.7L33.0 200.3L33.9 199.9L34.8 199.5L35.7 199.2L36.7 198.9L37.6 198.6L38.7 198.4L39.7 198.1L40.8 198.0L41.9 197.8L42.9 197.7L44.0 197.7L45.1 197.7L46.1 197.8L47.2 198.0L48.3 198.1L49.3 198.4L50.4 198.6L51.3 198.9L52.3 199.2L53.2 199.5L54.1 199.9L55.0 200.3L55.9 200.7L56.7 201.2L57.5 201.6L58.2 202.1L58.9 202.6L59.5 203.0L60.1 203.5L60.7 204.0L61.2 204.5L61.7 204.9L62.1 205.4L62.6 205.9L63.1 206.4L63.2 206.6L63.2 206.9L63.0 207.1L62.8 207.1L62.5 207.0L62.0 206.6L61.4 206.2L60.9 205.8L60.4 205.4L59.9 205.0L59.3 204.6L58.7 204.2L58.1 203.8L57.4 203.5L56.7 203.1L55.9 202.7L55.1 202.4L54.3 202.0L53.4 201.7L52.6 201.5L51.7 201.2L50.8 201.0L49.9 200.8L48.9 200.6L47.9 200.4L46.9 200.3L45.9 200.2L45.0 200.1L44.0 200.1L43.0 200.1L42.1 200.2L41.1 200.3L40.1 200.4L39.1 200.6L38.1 200.8L37.2 201.0L36.3 201.2L35.4 201.5L34.6 201.7L33.7 202.0L32.9 202.4L32.1 202.7L31.3 203.1L30.6 203.5L29.9 203.8L29.2 204.2L28.7 204.6L28.1 205.0L27.6 205.4L27.0 205.8L26.5 206.2L26.0 206.6L25.4 207.0L25.1 207.1L24.9 207.1L24.7 206.9L24.7 206.6Z" fill="#000"/>
<path d="M21.5 191.9L24.4 190.6L27.2 189.3L30.1 188.0L32.9 186.7L35.8 185.4L38.6 184.1L41.5 182.8L44.3 181.5L44.7 181.2L44.7 180.7L44.6 180.3L44.1 180.1L43.7 180.1L40.8 181.4L38.0 182.7L35.1 184.0L32.3 185.3L29.4 186.6L26.6 187.9L23.7 189.2L20.9 190.5L20.5 190.8L20.5 191.3L20.6 191.7L21.1 191.9ZM43.7 181.5L46.5 182.8L49.3 184.1L52.2 185.4L55.0 186.7L57.8 188.0L60.6 189.3L63.5 190.6L66.3 191.9L66.7 191.9L67.2 191.7L67.3 191.3L67.3 190.8L66.9 190.5L64.1 189.2L61.3 187.9L58.4 186.6L55.6 185.3L52.8 184.0L50.0 182.7L47.1 181.4L44.3 180.1L43.9 180.1L43.4 180.3L43.3 180.7L43.3 181.2Z" fill="#000"/>
<path d="M61.0 166.1L60.9 165.6L60.5 165.2L60.1 164.9L59.5 164.9L59.1 165.2L58.7 165.6L58.6 166.1L58.7 166.6L59.1 167.0L59.5 167.3L60.1 167.3L60.5 167.0L60.9 166.6ZM59.3 166.5L59.2 166.4L59.0 166.4L58.8 166.4L58.6 166.4L58.4 166.3L58.1 166.3L57.8 166.4L57.6 166.6L57.4 166.8L57.3 167.0L57.1 167.2L57.0 167.5L56.9 167.8L56.9 168.1L56.8 168.5L56.9 168.8L56.9 169.2L57.0 169.6L57.2 170.0L57.3 170.4L57.5 170.8L57.7 171.2L57.9 171.5L58.2 171.9L58.4 172.3L58.7 172.6L59.1 172.9L59.4 173.2L59.7 173.5L60.1 173.8L60.5 174.0L60.9 174.3L61.3 174.5L61.7 174.7L62.1 174.8L62.6 174.9L63.0 175.1L63.5 175.1L63.9 175.2L64.4 175.2L64.8 175.2L65.2 175.1L65.6 175.0L65.9 174.9L66.3 174.7L66.6 174.6L67.0 174.3L67.3 174.1L67.5 173.8L67.8 173.5L68.0 173.2L68.2 172.9L68.4 172.5L68.5 172.2L68.7 171.8L68.8 171.5L68.9 171.1L68.9 170.7L69.0 170.4L69.0 170.0L69.0 169.7L68.9 169.3L68.9 168.9L68.8 168.6L68.7 168.3L68.6 167.9L68.5 167.6L68.3 167.3L68.2 167.0L68.0 166.7L67.8 166.4L67.6 166.2L67.4 165.9L67.2 165.7L67.0 165.5L66.7 165.4L66.5 165.2L66.3 165.1L66.1 164.9L65.9 164.8L65.7 164.7L65.5 164.7L65.4 164.9L65.4 165.1L65.5 165.2L65.7 165.4L65.9 165.6L66.1 165.8L66.3 165.9L66.5 166.1L66.7 166.3L66.8 166.4L67.0 166.6L67.1 166.9L67.3 167.1L67.4 167.4L67.6 167.7L67.7 167.9L67.8 168.2L67.9 168.5L68.0 168.8L68.0 169.1L68.0 169.4L68.1 169.7L68.1 170.0L68.0 170.3L68.0 170.6L67.9 170.9L67.8 171.1L67.7 171.4L67.6 171.7L67.4 171.9L67.2 172.2L67.0 172.4L66.8 172.6L66.6 172.8L66.3 172.9L66.1 173.0L65.9 173.1L65.7 173.1L65.4 173.2L65.2 173.2L64.9 173.2L64.7 173.2L64.4 173.2L64.2 173.2L63.9 173.1L63.6 173.0L63.2 172.9L62.9 172.8L62.5 172.6L62.2 172.5L61.9 172.3L61.6 172.2L61.3 172.0L61.0 171.8L60.7 171.6L60.4 171.4L60.1 171.1L59.9 170.9L59.6 170.7L59.4 170.4L59.2 170.2L58.9 169.9L58.7 169.6L58.5 169.3L58.4 169.0L58.2 168.8L58.1 168.6L58.1 168.4L58.0 168.2L58.0 168.0L58.0 167.8L58.1 167.6L58.1 167.4L58.2 167.3L58.2 167.2L58.2 167.2L58.2 167.2L58.3 167.2L58.5 167.2L58.7 167.3L58.9 167.3L59.1 167.3L59.3 167.3L59.5 167.3L59.7 167.1L59.7 166.8L59.6 166.6Z" fill="#000"/>
</svg>
</body></html>
